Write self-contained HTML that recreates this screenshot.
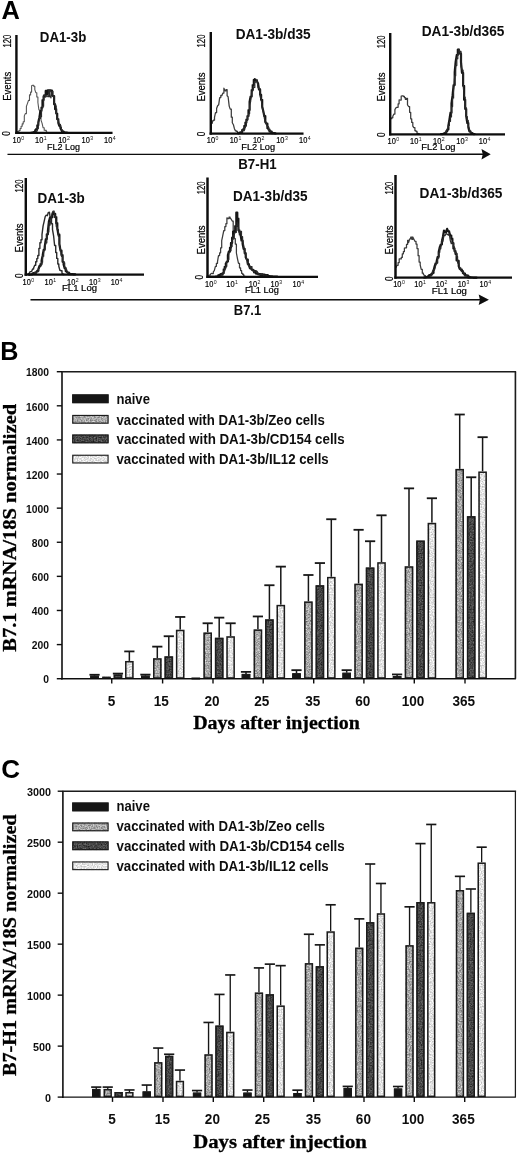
<!DOCTYPE html>
<html lang="en"><head><meta charset="utf-8"><title>Figure: B7-H1 and B7.1 expression</title>
<style>
html,body{margin:0;padding:0;background:#fff;}
body{width:520px;height:1154px;overflow:hidden;font-family:"Liberation Sans",sans-serif;}
svg{display:block;}
text{white-space:pre;}
</style></head><body>
<svg width="520" height="1154" viewBox="0 0 520 1154">
<rect width="520" height="1154" fill="#fff"/>
<defs>
<filter id="fz" x="0" y="0" width="1" height="1" color-interpolation-filters="sRGB"><feTurbulence type="fractalNoise" baseFrequency="0.75" numOctaves="2" seed="5"/><feColorMatrix type="matrix" values="0.7 0 0 0 0.31  0.7 0 0 0 0.31  0.7 0 0 0 0.31  0 0 0 0 1"/><feComposite operator="in" in2="SourceGraphic"/></filter>
<filter id="fc" x="0" y="0" width="1" height="1" color-interpolation-filters="sRGB"><feTurbulence type="fractalNoise" baseFrequency="0.75" numOctaves="2" seed="11"/><feColorMatrix type="matrix" values="0.5 0 0 0 0.03  0.5 0 0 0 0.03  0.5 0 0 0 0.03  0 0 0 0 1"/><feComposite operator="in" in2="SourceGraphic"/></filter>
<filter id="fi" x="0" y="0" width="1" height="1" color-interpolation-filters="sRGB"><feTurbulence type="fractalNoise" baseFrequency="0.75" numOctaves="2" seed="23"/><feColorMatrix type="matrix" values="0.5 0 0 0 0.64  0.5 0 0 0 0.64  0.5 0 0 0 0.64  0 0 0 0 1"/><feComposite operator="in" in2="SourceGraphic"/></filter>
<filter id="soft" x="0" y="0" width="100%" height="100%" filterUnits="userSpaceOnUse"><feGaussianBlur stdDeviation="0.42"/></filter>
</defs>
<g filter="url(#soft)">
<path d="M16.9,131.8 L17.9,131.4 L19.0,131.4 L19.0,130.5 L20.1,130.5 L20.1,128.5 L21.1,128.5 L21.1,126.2 L22.2,126.2 L22.2,123.9 L23.2,123.9 L23.2,121.7 L24.3,121.7 L24.3,115.9 L25.3,113.6 L26.4,113.6 L26.4,106.4 L27.4,103.6 L28.5,100.4 L29.5,100.4 L29.5,94.9 L30.6,94.9 L30.6,92.1 L31.6,92.1 L31.6,85.7 L32.7,85.3 L33.7,85.3 L33.7,86.2 L34.8,86.2 L34.8,89.7 L35.8,92.7 L36.8,92.7 L36.8,97.0 L37.9,97.0 L37.9,102.5 L38.9,110.0 L40.0,110.0 L40.0,114.6 L41.0,114.6 L41.0,120.1 L42.1,123.4 L43.1,127.8 L44.2,127.8 L44.2,130.3 L45.2,130.3 L45.2,130.4 L46.3,130.4 L46.3,131.8 L47.3,132.3 L48.4,132.6" fill="none" stroke="#555" stroke-width="1.1" stroke-linejoin="round" stroke-linecap="round"/>
<path d="M31.0,132.8 L32.0,132.8 L32.0,132.6 L33.1,132.3 L34.1,132.0 L35.2,132.0 L35.2,130.4 L36.2,129.0 L37.3,129.0 L37.3,125.3 L38.3,125.3 L38.3,122.3 L39.4,117.5 L40.4,110.8 L41.5,110.8 L41.5,107.5 L42.5,107.5 L42.5,100.1 L43.6,100.1 L43.6,96.4 L44.6,96.4 L44.6,95.3 L45.7,95.3 L45.7,90.9 L46.7,90.9 L46.7,93.8 L47.8,93.8 L47.8,90.3 L48.8,90.3 L48.8,92.7 L49.9,90.3 L50.9,90.3 L50.9,90.6 L52.0,90.6 L52.0,94.9 L53.0,96.0 L54.1,96.0 L54.1,104.3 L55.1,104.3 L55.1,109.2 L56.2,109.2 L56.2,113.5 L57.2,113.5 L57.2,119.2 L58.3,119.2 L58.3,122.9 L59.3,125.9 L60.4,125.9 L60.4,128.1 L61.4,130.0 L62.5,132.2 L63.5,131.5 L64.6,132.5 L65.6,132.5 L65.6,132.7 L66.7,132.7 L66.7,132.8 L67.7,132.8 L67.7,132.9" fill="none" stroke="#181818" stroke-width="2.2" stroke-linejoin="round" stroke-linecap="round"/>
<path d="M31.0,132.8 L32.0,132.7 L33.1,132.7 L33.1,132.4 L34.1,132.4 L34.1,132.9 L35.2,132.9 L35.2,132.0 L36.2,132.0 L36.2,130.9 L37.3,130.9 L37.3,128.5 L38.3,128.5 L38.3,124.7 L39.4,118.4 L40.4,118.4 L40.4,116.7 L41.5,116.7 L41.5,110.2 L42.5,106.2 L43.6,106.2 L43.6,95.0 L44.6,95.0 L44.6,95.4 L45.7,95.4 L45.7,97.2 L46.7,95.8 L47.8,95.8 L47.8,96.7 L48.8,96.7 L48.8,90.2 L49.9,90.2 L49.9,96.8 L50.9,96.8 L50.9,97.8 L52.0,91.3 L53.0,91.3 L53.0,96.6 L54.1,96.6 L54.1,103.4 L55.1,103.4 L55.1,105.8 L56.2,105.8 L56.2,111.2 L57.2,119.0 L58.3,120.0 L59.3,124.3 L60.4,124.3 L60.4,127.3 L61.4,127.3 L61.4,129.9 L62.5,129.9 L62.5,132.4 L63.5,132.4 L63.5,132.5 L64.6,132.4 L65.6,132.6 L66.7,132.6 L66.7,132.8 L67.7,132.8" fill="none" stroke="#2a2a2a" stroke-width="1.2" stroke-linejoin="round" stroke-linecap="round"/>
<line x1="16.40" y1="35.00" x2="16.40" y2="134.00" stroke="#0a0a0a" stroke-width="2.4" stroke-linecap="butt"/>
<line x1="15.20" y1="132.90" x2="112.50" y2="132.90" stroke="#0a0a0a" stroke-width="2.3" stroke-linecap="butt"/>
<text x="39.80" y="42.00" font-family='"Liberation Sans", sans-serif' font-size="14.6" font-weight="bold" textLength="46.50" lengthAdjust="spacingAndGlyphs" fill="#0a0a0a" >DA1-3b</text>
<text x="10.70" y="47.60" font-family='"Liberation Sans", sans-serif' font-size="10" textLength="12.80" lengthAdjust="spacingAndGlyphs" transform="rotate(-90 10.70 47.60)" fill="#000" stroke="#000" stroke-width="0.22">120</text>
<text x="10.70" y="100.80" font-family='"Liberation Sans", sans-serif' font-size="10.2" textLength="29.00" lengthAdjust="spacingAndGlyphs" transform="rotate(-90 10.70 100.80)" fill="#000" stroke="#000" stroke-width="0.22">Events</text>
<text x="9.70" y="133.50" font-family='"Liberation Sans", sans-serif' font-size="10" text-anchor="middle" textLength="4.60" lengthAdjust="spacingAndGlyphs" transform="rotate(-90 9.70 133.50)" fill="#000" stroke="#000" stroke-width="0.22">0</text>
<text x="12.50" y="143.00" font-family='"Liberation Sans", sans-serif' font-size="9.8" textLength="8.30" lengthAdjust="spacingAndGlyphs" fill="#000" stroke="#000" stroke-width="0.22">10</text>
<text x="21.20" y="139.50" font-family='"Liberation Sans", sans-serif' font-size="5.6" textLength="2.90" lengthAdjust="spacingAndGlyphs" fill="#111" >0</text>
<text x="35.00" y="143.00" font-family='"Liberation Sans", sans-serif' font-size="9.8" textLength="8.30" lengthAdjust="spacingAndGlyphs" fill="#000" stroke="#000" stroke-width="0.22">10</text>
<text x="43.70" y="139.50" font-family='"Liberation Sans", sans-serif' font-size="5.6" textLength="2.90" lengthAdjust="spacingAndGlyphs" fill="#111" >1</text>
<text x="58.20" y="143.00" font-family='"Liberation Sans", sans-serif' font-size="9.8" textLength="8.30" lengthAdjust="spacingAndGlyphs" fill="#000" stroke="#000" stroke-width="0.22">10</text>
<text x="66.90" y="139.50" font-family='"Liberation Sans", sans-serif' font-size="5.6" textLength="2.90" lengthAdjust="spacingAndGlyphs" fill="#111" >2</text>
<text x="81.50" y="143.00" font-family='"Liberation Sans", sans-serif' font-size="9.8" textLength="8.30" lengthAdjust="spacingAndGlyphs" fill="#000" stroke="#000" stroke-width="0.22">10</text>
<text x="90.20" y="139.50" font-family='"Liberation Sans", sans-serif' font-size="5.6" textLength="2.90" lengthAdjust="spacingAndGlyphs" fill="#111" >3</text>
<text x="104.10" y="143.00" font-family='"Liberation Sans", sans-serif' font-size="9.8" textLength="8.30" lengthAdjust="spacingAndGlyphs" fill="#000" stroke="#000" stroke-width="0.22">10</text>
<text x="112.80" y="139.50" font-family='"Liberation Sans", sans-serif' font-size="5.6" textLength="2.90" lengthAdjust="spacingAndGlyphs" fill="#111" >4</text>
<text x="47.00" y="150.00" font-family='"Liberation Sans", sans-serif' font-size="9.2" textLength="33.00" lengthAdjust="spacingAndGlyphs" fill="#000" stroke="#000" stroke-width="0.22">FL2 Log</text>
<path d="M211.3,123.2 L212.4,123.2 L212.4,120.8 L213.4,120.8 L213.4,120.2 L214.5,120.2 L214.5,117.4 L215.5,112.7 L216.6,112.7 L216.6,108.5 L217.6,105.7 L218.7,104.7 L219.7,97.6 L220.8,97.6 L220.8,95.3 L221.8,95.7 L222.9,93.0 L223.9,93.0 L223.9,88.2 L225.0,90.8 L226.0,90.8 L226.0,89.7 L227.1,89.7 L227.1,95.8 L228.1,96.7 L229.2,106.1 L230.2,109.1 L231.3,109.1 L231.3,117.2 L232.3,117.2 L232.3,122.8 L233.4,124.7 L234.4,128.7 L235.5,130.9 L236.5,130.9 L236.5,131.4 L237.6,131.4 L237.6,133.2" fill="none" stroke="#3a3a3a" stroke-width="1.25" stroke-linejoin="round" stroke-linecap="round"/>
<path d="M238.0,133.3 L239.1,133.3 L239.1,133.0 L240.1,133.0 L240.1,132.4 L241.2,132.4 L241.2,132.0 L242.2,132.0 L242.2,130.0 L243.3,130.0 L243.3,129.2 L244.3,129.2 L244.3,125.9 L245.4,125.9 L245.4,122.6 L246.4,122.6 L246.4,119.5 L247.5,119.5 L247.5,116.1 L248.5,116.1 L248.5,110.1 L249.6,110.1 L249.6,101.6 L250.6,96.5 L251.7,96.5 L251.7,90.0 L252.7,90.0 L252.7,85.1 L253.8,85.1 L253.8,79.9 L254.8,79.9 L254.8,79.1 L255.9,80.7 L256.9,80.7 L256.9,81.2 L258.0,83.3 L259.0,89.5 L260.1,89.5 L260.1,94.7 L261.1,94.7 L261.1,99.8 L262.2,99.8 L262.2,106.4 L263.2,110.7 L264.3,116.0 L265.3,116.0 L265.3,121.9 L266.4,123.7 L267.4,123.7 L267.4,128.2 L268.5,128.2 L268.5,129.6 L269.5,129.6 L269.5,131.4 L270.6,131.6 L271.6,131.6 L271.6,131.9 L272.7,133.0 L273.7,133.2 L274.8,133.2 L274.8,133.4 L275.8,133.5" fill="none" stroke="#181818" stroke-width="2.2" stroke-linejoin="round" stroke-linecap="round"/>
<path d="M238.0,133.3 L239.1,133.1 L240.1,133.5 L241.2,133.5 L241.2,132.4 L242.2,129.8 L243.3,129.8 L243.3,130.7 L244.3,130.7 L244.3,127.6 L245.4,127.6 L245.4,125.9 L246.4,125.9 L246.4,120.3 L247.5,120.3 L247.5,116.4 L248.5,116.4 L248.5,113.7 L249.6,113.7 L249.6,104.7 L250.6,101.9 L251.7,91.1 L252.7,91.1 L252.7,90.8 L253.8,87.4 L254.8,87.4 L254.8,83.2 L255.9,81.4 L256.9,81.4 L256.9,79.4 L258.0,87.6 L259.0,88.5 L260.1,88.5 L260.1,97.0 L261.1,97.0 L261.1,98.7 L262.2,108.0 L263.2,110.5 L264.3,118.0 L265.3,122.2 L266.4,122.2 L266.4,124.3 L267.4,126.7 L268.5,126.7 L268.5,129.8 L269.5,129.8 L269.5,130.5 L270.6,130.5 L270.6,132.8 L271.6,132.8 L271.6,133.6 L272.7,133.6 L272.7,132.9 L273.7,132.9 L273.7,133.2 L274.8,133.4 L275.8,133.4 L275.8,133.5" fill="none" stroke="#2a2a2a" stroke-width="1.2" stroke-linejoin="round" stroke-linecap="round"/>
<line x1="210.80" y1="32.00" x2="210.80" y2="134.70" stroke="#0a0a0a" stroke-width="2.4" stroke-linecap="butt"/>
<line x1="209.60" y1="133.60" x2="303.50" y2="133.60" stroke="#0a0a0a" stroke-width="2.3" stroke-linecap="butt"/>
<text x="235.70" y="38.70" font-family='"Liberation Sans", sans-serif' font-size="14.4" font-weight="bold" textLength="74.90" lengthAdjust="spacingAndGlyphs" fill="#0a0a0a" >DA1-3b/d35</text>
<text x="204.80" y="47.40" font-family='"Liberation Sans", sans-serif' font-size="10" textLength="12.80" lengthAdjust="spacingAndGlyphs" transform="rotate(-90 204.80 47.40)" fill="#000" stroke="#000" stroke-width="0.22">120</text>
<text x="204.80" y="101.60" font-family='"Liberation Sans", sans-serif' font-size="10.2" textLength="29.00" lengthAdjust="spacingAndGlyphs" transform="rotate(-90 204.80 101.60)" fill="#000" stroke="#000" stroke-width="0.22">Events</text>
<text x="204.80" y="134.00" font-family='"Liberation Sans", sans-serif' font-size="10" text-anchor="middle" textLength="4.60" lengthAdjust="spacingAndGlyphs" transform="rotate(-90 204.80 134.00)" fill="#000" stroke="#000" stroke-width="0.22">0</text>
<text x="206.80" y="143.40" font-family='"Liberation Sans", sans-serif' font-size="9.8" textLength="8.30" lengthAdjust="spacingAndGlyphs" fill="#000" stroke="#000" stroke-width="0.22">10</text>
<text x="215.50" y="139.90" font-family='"Liberation Sans", sans-serif' font-size="5.6" textLength="2.90" lengthAdjust="spacingAndGlyphs" fill="#111" >0</text>
<text x="229.70" y="143.40" font-family='"Liberation Sans", sans-serif' font-size="9.8" textLength="8.30" lengthAdjust="spacingAndGlyphs" fill="#000" stroke="#000" stroke-width="0.22">10</text>
<text x="238.40" y="139.90" font-family='"Liberation Sans", sans-serif' font-size="5.6" textLength="2.90" lengthAdjust="spacingAndGlyphs" fill="#111" >1</text>
<text x="252.90" y="143.40" font-family='"Liberation Sans", sans-serif' font-size="9.8" textLength="8.30" lengthAdjust="spacingAndGlyphs" fill="#000" stroke="#000" stroke-width="0.22">10</text>
<text x="261.60" y="139.90" font-family='"Liberation Sans", sans-serif' font-size="5.6" textLength="2.90" lengthAdjust="spacingAndGlyphs" fill="#111" >2</text>
<text x="276.20" y="143.40" font-family='"Liberation Sans", sans-serif' font-size="9.8" textLength="8.30" lengthAdjust="spacingAndGlyphs" fill="#000" stroke="#000" stroke-width="0.22">10</text>
<text x="284.90" y="139.90" font-family='"Liberation Sans", sans-serif' font-size="5.6" textLength="2.90" lengthAdjust="spacingAndGlyphs" fill="#111" >3</text>
<text x="299.00" y="143.40" font-family='"Liberation Sans", sans-serif' font-size="9.8" textLength="8.30" lengthAdjust="spacingAndGlyphs" fill="#000" stroke="#000" stroke-width="0.22">10</text>
<text x="307.70" y="139.90" font-family='"Liberation Sans", sans-serif' font-size="5.6" textLength="2.90" lengthAdjust="spacingAndGlyphs" fill="#111" >4</text>
<text x="241.30" y="150.40" font-family='"Liberation Sans", sans-serif' font-size="9.2" textLength="33.80" lengthAdjust="spacingAndGlyphs" fill="#000" stroke="#000" stroke-width="0.22">FL2 Log</text>
<path d="M390.7,118.7 L391.8,118.7 L391.8,117.7 L392.8,117.7 L392.8,116.2 L393.9,114.0 L394.9,114.0 L394.9,109.6 L396.0,107.7 L397.0,107.3 L398.1,107.3 L398.1,103.8 L399.1,103.8 L399.1,99.9 L400.2,100.0 L401.2,100.0 L401.2,96.1 L402.3,95.9 L403.3,95.9 L403.3,96.3 L404.4,96.3 L404.4,97.7 L405.4,97.7 L405.4,99.4 L406.5,99.4 L406.5,98.3 L407.5,98.3 L407.5,104.9 L408.6,106.5 L409.6,106.5 L409.6,112.3 L410.7,112.3 L410.7,118.8 L411.7,118.8 L411.7,122.4 L412.8,122.4 L412.8,126.1 L413.8,127.7 L414.9,127.7 L414.9,130.7 L415.9,130.7 L415.9,131.3 L417.0,131.3 L417.0,133.4 L418.0,133.4 L418.0,133.7 L419.1,133.7 L419.1,134.0" fill="none" stroke="#3a3a3a" stroke-width="1.25" stroke-linejoin="round" stroke-linecap="round"/>
<path d="M441.0,134.2 L442.1,134.2 L442.1,134.0 L443.1,134.0 L443.1,133.8 L444.2,133.8 L444.2,133.3 L445.2,133.3 L445.2,132.8 L446.3,132.8 L446.3,131.1 L447.3,131.1 L447.3,129.5 L448.4,129.5 L448.4,125.5 L449.4,119.8 L450.5,112.7 L451.5,112.7 L451.5,103.4 L452.6,95.2 L453.6,85.1 L454.7,85.1 L454.7,72.1 L455.7,61.4 L456.8,54.9 L457.8,54.9 L457.8,49.7 L458.9,49.7 L458.9,51.1 L459.9,53.7 L461.0,53.7 L461.0,62.1 L462.0,72.8 L463.1,72.8 L463.1,85.8 L464.1,85.8 L464.1,99.8 L465.2,99.8 L465.2,109.0 L466.2,109.0 L466.2,116.1 L467.3,123.0 L468.3,123.0 L468.3,127.3 L469.4,131.4 L470.4,131.4 L470.4,131.8 L471.5,133.2 L472.5,133.2 L472.5,133.8 L473.6,134.1 L474.6,134.1 L474.6,134.2" fill="none" stroke="#181818" stroke-width="2.2" stroke-linejoin="round" stroke-linecap="round"/>
<path d="M441.0,134.2 L442.1,134.2 L442.1,134.1 L443.1,134.1 L443.1,133.9 L444.2,133.9 L444.2,132.9 L445.2,132.1 L446.3,132.1 L446.3,131.5 L447.3,129.5 L448.4,125.5 L449.4,125.5 L449.4,121.3 L450.5,121.3 L450.5,116.9 L451.5,116.9 L451.5,106.6 L452.6,106.6 L452.6,97.9 L453.6,97.9 L453.6,90.2 L454.7,75.7 L455.7,75.7 L455.7,65.6 L456.8,65.6 L456.8,58.7 L457.8,58.7 L457.8,54.0 L458.9,54.0 L458.9,49.1 L459.9,51.4 L461.0,51.4 L461.0,66.0 L462.0,70.2 L463.1,70.2 L463.1,84.3 L464.1,97.2 L465.2,97.2 L465.2,107.6 L466.2,107.6 L466.2,116.5 L467.3,116.5 L467.3,120.4 L468.3,120.4 L468.3,125.7 L469.4,128.8 L470.4,132.6 L471.5,132.6 L471.5,133.1 L472.5,133.1 L472.5,133.7 L473.6,133.7 L473.6,134.0 L474.6,134.0 L474.6,134.2" fill="none" stroke="#2a2a2a" stroke-width="1.2" stroke-linejoin="round" stroke-linecap="round"/>
<line x1="390.20" y1="33.00" x2="390.20" y2="135.40" stroke="#0a0a0a" stroke-width="2.4" stroke-linecap="butt"/>
<line x1="389.00" y1="134.30" x2="505.00" y2="134.30" stroke="#0a0a0a" stroke-width="2.3" stroke-linecap="butt"/>
<text x="421.70" y="36.30" font-family='"Liberation Sans", sans-serif' font-size="14.9" font-weight="bold" textLength="82.70" lengthAdjust="spacingAndGlyphs" fill="#0a0a0a" >DA1-3b/d365</text>
<text x="385.00" y="48.20" font-family='"Liberation Sans", sans-serif' font-size="10" textLength="12.80" lengthAdjust="spacingAndGlyphs" transform="rotate(-90 385.00 48.20)" fill="#000" stroke="#000" stroke-width="0.22">120</text>
<text x="385.00" y="101.60" font-family='"Liberation Sans", sans-serif' font-size="10.2" textLength="29.00" lengthAdjust="spacingAndGlyphs" transform="rotate(-90 385.00 101.60)" fill="#000" stroke="#000" stroke-width="0.22">Events</text>
<text x="385.00" y="134.80" font-family='"Liberation Sans", sans-serif' font-size="10" text-anchor="middle" textLength="4.60" lengthAdjust="spacingAndGlyphs" transform="rotate(-90 385.00 134.80)" fill="#000" stroke="#000" stroke-width="0.22">0</text>
<text x="387.50" y="144.00" font-family='"Liberation Sans", sans-serif' font-size="9.8" textLength="8.30" lengthAdjust="spacingAndGlyphs" fill="#000" stroke="#000" stroke-width="0.22">10</text>
<text x="396.20" y="140.50" font-family='"Liberation Sans", sans-serif' font-size="5.6" textLength="2.90" lengthAdjust="spacingAndGlyphs" fill="#111" >0</text>
<text x="410.00" y="144.00" font-family='"Liberation Sans", sans-serif' font-size="9.8" textLength="8.30" lengthAdjust="spacingAndGlyphs" fill="#000" stroke="#000" stroke-width="0.22">10</text>
<text x="418.70" y="140.50" font-family='"Liberation Sans", sans-serif' font-size="5.6" textLength="2.90" lengthAdjust="spacingAndGlyphs" fill="#111" >1</text>
<text x="433.00" y="144.00" font-family='"Liberation Sans", sans-serif' font-size="9.8" textLength="8.30" lengthAdjust="spacingAndGlyphs" fill="#000" stroke="#000" stroke-width="0.22">10</text>
<text x="441.70" y="140.50" font-family='"Liberation Sans", sans-serif' font-size="5.6" textLength="2.90" lengthAdjust="spacingAndGlyphs" fill="#111" >2</text>
<text x="456.30" y="144.00" font-family='"Liberation Sans", sans-serif' font-size="9.8" textLength="8.30" lengthAdjust="spacingAndGlyphs" fill="#000" stroke="#000" stroke-width="0.22">10</text>
<text x="465.00" y="140.50" font-family='"Liberation Sans", sans-serif' font-size="5.6" textLength="2.90" lengthAdjust="spacingAndGlyphs" fill="#111" >3</text>
<text x="478.80" y="144.00" font-family='"Liberation Sans", sans-serif' font-size="9.8" textLength="8.30" lengthAdjust="spacingAndGlyphs" fill="#000" stroke="#000" stroke-width="0.22">10</text>
<text x="487.50" y="140.50" font-family='"Liberation Sans", sans-serif' font-size="5.6" textLength="2.90" lengthAdjust="spacingAndGlyphs" fill="#111" >4</text>
<text x="421.30" y="150.30" font-family='"Liberation Sans", sans-serif' font-size="9.2" textLength="34.20" lengthAdjust="spacingAndGlyphs" fill="#000" stroke="#000" stroke-width="0.22">FL2 Log</text>
<line x1="7.50" y1="154.40" x2="483.00" y2="154.30" stroke="#0c0c0c" stroke-width="1.4" stroke-linecap="butt"/>
<path d="M481.5,149.0 L490.7,154.3 L481.5,159.6 L482.7,154.3 Z" fill="#0c0c0c"/>
<text x="238.30" y="168.50" font-family='"Liberation Sans", sans-serif' font-size="15" font-weight="bold" textLength="38.30" lengthAdjust="spacingAndGlyphs" fill="#0a0a0a" >B7-H1</text>
<path d="M26.3,274.2 L27.4,274.2 L27.4,274.2 L28.4,274.2 L28.4,273.8 L29.5,273.8 L29.5,272.3 L30.5,271.6 L31.6,271.6 L32.6,269.0 L33.6,269.0 L33.6,267.9 L34.7,265.2 L35.7,265.2 L35.7,261.8 L36.8,261.8 L36.8,258.6 L37.8,258.6 L37.8,255.5 L38.9,255.5 L38.9,248.4 L39.9,248.4 L39.9,242.8 L41.0,242.8 L41.0,239.8 L42.0,239.8 L42.0,234.7 L43.1,225.9 L44.1,221.6 L45.2,216.7 L46.2,215.2 L47.3,215.7 L48.3,212.5 L49.4,212.5 L49.4,212.2 L50.4,218.7 L51.5,218.7 L51.5,223.7 L52.5,223.7 L52.5,229.7 L53.6,235.8 L54.6,245.5 L55.7,245.5 L55.7,252.5 L56.7,252.5 L56.7,258.4 L57.8,258.4 L57.8,264.0 L58.8,264.0 L58.8,266.2 L59.9,270.4 L60.9,270.4 L60.9,270.8 L62.0,270.8 L62.0,273.6 L63.0,273.6 L63.0,274.5 L64.1,274.5 L64.1,274.2" fill="none" stroke="#2a2a2a" stroke-width="1.4" stroke-linejoin="round" stroke-linecap="round"/>
<path d="M29.0,274.6 L30.1,274.6 L30.1,274.5 L31.1,274.5 L31.1,274.4 L32.1,274.4 L32.1,274.1 L33.2,273.1 L34.2,273.1 L34.2,273.5 L35.3,273.5 L35.3,272.6 L36.3,272.6 L36.3,272.0 L37.4,270.7 L38.4,270.7 L38.4,269.3 L39.5,265.9 L40.5,265.9 L40.5,264.0 L41.6,264.0 L41.6,260.4 L42.6,255.7 L43.7,249.6 L44.7,249.6 L44.7,247.2 L45.8,239.1 L46.8,239.1 L46.8,234.3 L47.9,234.3 L47.9,230.9 L48.9,221.5 L50.0,217.5 L51.0,217.5 L51.0,217.5 L52.1,217.5 L52.1,216.1 L53.1,212.7 L54.2,213.9 L55.2,213.9 L55.2,217.0 L56.3,217.0 L56.3,223.2 L57.3,223.2 L57.3,228.3 L58.4,234.7 L59.4,234.7 L59.4,244.0 L60.5,250.6 L61.5,250.6 L61.5,255.1 L62.6,255.1 L62.6,261.8 L63.6,261.8 L63.6,264.5 L64.7,268.4 L65.7,268.4 L65.7,271.1 L66.8,271.8 L67.8,272.6 L68.9,272.6 L68.9,273.7 L69.9,273.7 L69.9,274.1 L71.0,274.2 L72.0,274.2 L73.1,274.2 L73.1,274.3 L74.1,274.3 L74.1,274.4 L75.2,274.4 L75.2,274.4" fill="none" stroke="#181818" stroke-width="2.2" stroke-linejoin="round" stroke-linecap="round"/>
<path d="M29.0,274.6 L30.1,274.5 L31.1,274.5 L31.1,274.4 L32.1,274.4 L32.1,274.2 L33.2,273.9 L34.2,273.9 L34.2,272.4 L35.3,272.4 L35.3,274.2 L36.3,272.3 L37.4,271.7 L38.4,271.7 L38.4,268.5 L39.5,268.1 L40.5,265.1 L41.6,265.1 L41.6,262.2 L42.6,262.2 L42.6,256.2 L43.7,256.2 L43.7,250.6 L44.7,250.6 L44.7,249.3 L45.8,242.8 L46.8,242.8 L46.8,234.0 L47.9,234.0 L47.9,232.0 L48.9,232.0 L48.9,222.8 L50.0,222.8 L50.0,225.2 L51.0,219.2 L52.1,213.0 L53.1,211.1 L54.2,211.1 L54.2,217.4 L55.2,215.2 L56.3,226.7 L57.3,226.7 L57.3,229.7 L58.4,229.7 L58.4,236.5 L59.4,236.5 L59.4,245.0 L60.5,249.4 L61.5,256.3 L62.6,256.3 L62.6,260.9 L63.6,262.8 L64.7,262.8 L64.7,267.4 L65.7,267.4 L65.7,269.8 L66.8,269.8 L66.8,270.3 L67.8,273.0 L68.9,273.0 L68.9,274.7 L69.9,274.0 L71.0,274.1 L72.0,274.1 L72.0,274.2 L73.1,274.2 L73.1,274.3 L74.1,274.3 L74.1,274.3 L75.2,274.4" fill="none" stroke="#2a2a2a" stroke-width="1.2" stroke-linejoin="round" stroke-linecap="round"/>
<line x1="25.80" y1="178.00" x2="25.80" y2="275.80" stroke="#0a0a0a" stroke-width="2.4" stroke-linecap="butt"/>
<line x1="24.60" y1="274.70" x2="144.00" y2="274.70" stroke="#0a0a0a" stroke-width="2.3" stroke-linecap="butt"/>
<text x="37.50" y="203.00" font-family='"Liberation Sans", sans-serif' font-size="14.8" font-weight="bold" textLength="47.10" lengthAdjust="spacingAndGlyphs" fill="#0a0a0a" >DA1-3b</text>
<text x="22.60" y="192.40" font-family='"Liberation Sans", sans-serif' font-size="10" textLength="12.80" lengthAdjust="spacingAndGlyphs" transform="rotate(-90 22.60 192.40)" fill="#000" stroke="#000" stroke-width="0.22">120</text>
<text x="22.60" y="252.40" font-family='"Liberation Sans", sans-serif' font-size="10.2" textLength="29.00" lengthAdjust="spacingAndGlyphs" transform="rotate(-90 22.60 252.40)" fill="#000" stroke="#000" stroke-width="0.22">Events</text>
<text x="22.60" y="275.60" font-family='"Liberation Sans", sans-serif' font-size="10" text-anchor="middle" textLength="4.60" lengthAdjust="spacingAndGlyphs" transform="rotate(-90 22.60 275.60)" fill="#000" stroke="#000" stroke-width="0.22">0</text>
<text x="22.60" y="285.30" font-family='"Liberation Sans", sans-serif' font-size="9.8" textLength="8.30" lengthAdjust="spacingAndGlyphs" fill="#000" stroke="#000" stroke-width="0.22">10</text>
<text x="31.30" y="281.80" font-family='"Liberation Sans", sans-serif' font-size="5.6" textLength="2.90" lengthAdjust="spacingAndGlyphs" fill="#111" >0</text>
<text x="44.60" y="285.30" font-family='"Liberation Sans", sans-serif' font-size="9.8" textLength="8.30" lengthAdjust="spacingAndGlyphs" fill="#000" stroke="#000" stroke-width="0.22">10</text>
<text x="53.30" y="281.80" font-family='"Liberation Sans", sans-serif' font-size="5.6" textLength="2.90" lengthAdjust="spacingAndGlyphs" fill="#111" >1</text>
<text x="67.00" y="285.30" font-family='"Liberation Sans", sans-serif' font-size="9.8" textLength="8.30" lengthAdjust="spacingAndGlyphs" fill="#000" stroke="#000" stroke-width="0.22">10</text>
<text x="75.70" y="281.80" font-family='"Liberation Sans", sans-serif' font-size="5.6" textLength="2.90" lengthAdjust="spacingAndGlyphs" fill="#111" >2</text>
<text x="89.00" y="285.30" font-family='"Liberation Sans", sans-serif' font-size="9.8" textLength="8.30" lengthAdjust="spacingAndGlyphs" fill="#000" stroke="#000" stroke-width="0.22">10</text>
<text x="97.70" y="281.80" font-family='"Liberation Sans", sans-serif' font-size="5.6" textLength="2.90" lengthAdjust="spacingAndGlyphs" fill="#111" >3</text>
<text x="110.80" y="285.30" font-family='"Liberation Sans", sans-serif' font-size="9.8" textLength="8.30" lengthAdjust="spacingAndGlyphs" fill="#000" stroke="#000" stroke-width="0.22">10</text>
<text x="119.50" y="281.80" font-family='"Liberation Sans", sans-serif' font-size="5.6" textLength="2.90" lengthAdjust="spacingAndGlyphs" fill="#111" >4</text>
<text x="62.00" y="290.80" font-family='"Liberation Sans", sans-serif' font-size="9.2" textLength="35.00" lengthAdjust="spacingAndGlyphs" fill="#000" stroke="#000" stroke-width="0.22">FL1 Log</text>
<path d="M208.0,276.5 L209.1,275.2 L210.1,275.2 L210.1,275.3 L211.2,273.3 L212.2,273.5 L213.3,273.5 L213.3,271.9 L214.3,270.7 L215.4,266.3 L216.4,266.3 L216.4,263.3 L217.5,263.3 L217.5,261.6 L218.5,255.6 L219.6,255.6 L219.6,252.8 L220.6,252.8 L220.6,247.8 L221.7,247.8 L221.7,240.7 L222.7,235.8 L223.8,230.5 L224.8,230.5 L224.8,226.6 L225.9,226.6 L225.9,223.7 L226.9,223.7 L226.9,217.9 L228.0,218.6 L229.0,218.6 L229.0,217.0 L230.1,217.0 L230.1,218.2 L231.1,219.0 L232.2,221.0 L233.2,221.0 L233.2,230.5 L234.3,230.5 L234.3,238.7 L235.3,238.7 L235.3,244.0 L236.4,244.0 L236.4,253.0 L237.4,258.3 L238.5,263.4 L239.5,263.4 L239.5,267.9 L240.6,267.9 L240.6,270.6 L241.6,270.6 L241.6,273.3 L242.7,273.3 L242.7,274.4 L243.7,274.4 L243.7,276.2 L244.8,276.2 L244.8,276.3 L245.8,276.6 L246.9,276.6 L246.9,276.7" fill="none" stroke="#3a3a3a" stroke-width="1.25" stroke-linejoin="round" stroke-linecap="round"/>
<path d="M210.0,276.9 L211.1,276.9 L211.1,276.9 L212.1,276.9 L212.1,276.9 L213.2,276.8 L214.2,276.8 L214.2,276.8 L215.3,276.8 L215.3,276.7 L216.3,276.6 L217.4,276.4 L218.4,276.4 L218.4,275.2 L219.5,275.6 L220.5,274.2 L221.6,274.2 L221.6,274.7 L222.6,274.7 L222.6,273.1 L223.7,273.1 L223.7,269.4 L224.7,269.4 L224.7,266.8 L225.8,266.8 L225.8,263.7 L226.8,261.6 L227.9,261.6 L227.9,255.1 L228.9,251.3 L230.0,251.3 L230.0,247.6 L231.0,247.6 L231.0,242.9 L232.1,242.9 L232.1,237.7 L233.1,237.7 L233.1,231.6 L234.2,231.6 L234.2,231.7 L235.2,231.7 L235.2,226.1 L236.3,226.1 L236.3,212.6 L237.3,212.6 L237.3,218.5 L238.4,218.5 L238.4,230.3 L239.4,230.3 L239.4,231.9 L240.5,231.9 L240.5,234.2 L241.5,240.5 L242.6,240.5 L242.6,243.8 L243.6,248.8 L244.7,248.8 L244.7,253.2 L245.7,253.2 L245.7,257.3 L246.8,259.6 L247.8,259.6 L247.8,264.1 L248.9,264.1 L248.9,264.9 L249.9,268.3 L251.0,268.6 L252.0,269.8 L253.1,269.8 L253.1,270.6 L254.1,270.6 L254.1,272.4 L255.2,271.9 L256.2,273.6 L257.3,273.6 L257.3,273.6 L258.3,273.6 L258.3,274.5 L259.4,274.2 L260.4,274.2 L260.4,275.3 L261.5,274.4 L262.5,274.4 L262.5,275.7 L263.6,274.6 L264.6,274.6 L264.6,275.7 L265.7,275.7 L265.7,275.0 L266.7,275.2 L267.8,275.2 L267.8,275.5 L268.8,276.2 L269.9,276.2 L269.9,276.3 L270.9,276.3 L270.9,276.4 L272.0,276.4 L273.0,276.5 L274.1,276.5 L274.1,276.6 L275.1,276.6 L275.1,276.6 L276.2,276.6 L276.2,276.6 L277.2,276.6 L277.2,276.7" fill="none" stroke="#181818" stroke-width="2.2" stroke-linejoin="round" stroke-linecap="round"/>
<path d="M210.0,276.9 L211.1,276.9 L211.1,276.9 L212.1,276.9 L212.1,276.9 L213.2,276.9 L213.2,276.9 L214.2,276.8 L215.3,276.8 L216.3,276.8 L216.3,276.7 L217.4,276.7 L217.4,276.5 L218.4,276.2 L219.5,276.9 L220.5,276.9 L220.5,276.2 L221.6,274.1 L222.6,274.1 L222.6,273.5 L223.7,273.5 L223.7,270.9 L224.7,270.9 L224.7,268.3 L225.8,268.3 L225.8,266.2 L226.8,266.2 L226.8,262.0 L227.9,259.6 L228.9,259.6 L228.9,252.3 L230.0,252.3 L230.0,250.7 L231.0,250.7 L231.0,246.4 L232.1,246.4 L232.1,239.5 L233.1,239.5 L233.1,235.2 L234.2,234.9 L235.2,232.4 L236.3,232.4 L236.3,225.6 L237.3,225.6 L237.3,222.1 L238.4,226.9 L239.4,234.8 L240.5,231.4 L241.5,231.4 L241.5,236.7 L242.6,236.7 L242.6,240.0 L243.6,244.9 L244.7,253.8 L245.7,253.8 L245.7,254.1 L246.8,260.8 L247.8,264.6 L248.9,265.9 L249.9,265.9 L249.9,268.0 L251.0,268.0 L251.0,266.5 L252.0,266.5 L252.0,270.0 L253.1,270.0 L253.1,270.9 L254.1,270.9 L254.1,272.2 L255.2,270.6 L256.2,270.6 L256.2,271.4 L257.3,271.4 L257.3,272.4 L258.3,273.6 L259.4,274.5 L260.4,274.5 L260.4,274.4 L261.5,274.4 L261.5,273.8 L262.5,273.8 L263.6,275.6 L264.6,276.2 L265.7,276.2 L265.7,275.5 L266.7,275.5 L266.7,275.2 L267.8,276.9 L268.8,276.9 L268.8,276.2 L269.9,276.3 L270.9,276.3 L270.9,276.3 L272.0,276.4 L273.0,276.5 L274.1,276.5 L274.1,276.5 L275.1,276.6 L276.2,276.6 L276.2,276.6 L277.2,276.6 L277.2,276.7" fill="none" stroke="#2a2a2a" stroke-width="1.2" stroke-linejoin="round" stroke-linecap="round"/>
<line x1="207.50" y1="177.50" x2="207.50" y2="278.00" stroke="#0a0a0a" stroke-width="2.4" stroke-linecap="butt"/>
<line x1="206.30" y1="276.90" x2="318.00" y2="276.90" stroke="#0a0a0a" stroke-width="2.3" stroke-linecap="butt"/>
<text x="233.00" y="201.00" font-family='"Liberation Sans", sans-serif' font-size="14.6" font-weight="bold" textLength="74.50" lengthAdjust="spacingAndGlyphs" fill="#0a0a0a" >DA1-3b/d35</text>
<text x="205.40" y="194.20" font-family='"Liberation Sans", sans-serif' font-size="10" textLength="12.80" lengthAdjust="spacingAndGlyphs" transform="rotate(-90 205.40 194.20)" fill="#000" stroke="#000" stroke-width="0.22">120</text>
<text x="205.40" y="254.40" font-family='"Liberation Sans", sans-serif' font-size="10.2" textLength="29.00" lengthAdjust="spacingAndGlyphs" transform="rotate(-90 205.40 254.40)" fill="#000" stroke="#000" stroke-width="0.22">Events</text>
<text x="202.70" y="277.30" font-family='"Liberation Sans", sans-serif' font-size="10" text-anchor="middle" textLength="4.60" lengthAdjust="spacingAndGlyphs" transform="rotate(-90 202.70 277.30)" fill="#000" stroke="#000" stroke-width="0.22">0</text>
<text x="205.00" y="287.30" font-family='"Liberation Sans", sans-serif' font-size="9.8" textLength="8.30" lengthAdjust="spacingAndGlyphs" fill="#000" stroke="#000" stroke-width="0.22">10</text>
<text x="213.70" y="283.80" font-family='"Liberation Sans", sans-serif' font-size="5.6" textLength="2.90" lengthAdjust="spacingAndGlyphs" fill="#111" >0</text>
<text x="226.30" y="287.30" font-family='"Liberation Sans", sans-serif' font-size="9.8" textLength="8.30" lengthAdjust="spacingAndGlyphs" fill="#000" stroke="#000" stroke-width="0.22">10</text>
<text x="235.00" y="283.80" font-family='"Liberation Sans", sans-serif' font-size="5.6" textLength="2.90" lengthAdjust="spacingAndGlyphs" fill="#111" >1</text>
<text x="248.80" y="287.30" font-family='"Liberation Sans", sans-serif' font-size="9.8" textLength="8.30" lengthAdjust="spacingAndGlyphs" fill="#000" stroke="#000" stroke-width="0.22">10</text>
<text x="257.50" y="283.80" font-family='"Liberation Sans", sans-serif' font-size="5.6" textLength="2.90" lengthAdjust="spacingAndGlyphs" fill="#111" >2</text>
<text x="270.50" y="287.30" font-family='"Liberation Sans", sans-serif' font-size="9.8" textLength="8.30" lengthAdjust="spacingAndGlyphs" fill="#000" stroke="#000" stroke-width="0.22">10</text>
<text x="279.20" y="283.80" font-family='"Liberation Sans", sans-serif' font-size="5.6" textLength="2.90" lengthAdjust="spacingAndGlyphs" fill="#111" >3</text>
<text x="292.50" y="287.30" font-family='"Liberation Sans", sans-serif' font-size="9.8" textLength="8.30" lengthAdjust="spacingAndGlyphs" fill="#000" stroke="#000" stroke-width="0.22">10</text>
<text x="301.20" y="283.80" font-family='"Liberation Sans", sans-serif' font-size="5.6" textLength="2.90" lengthAdjust="spacingAndGlyphs" fill="#111" >4</text>
<text x="245.00" y="293.20" font-family='"Liberation Sans", sans-serif' font-size="9.2" textLength="33.80" lengthAdjust="spacingAndGlyphs" fill="#000" stroke="#000" stroke-width="0.22">FL1 Log</text>
<path d="M396.0,267.4 L397.1,265.3 L398.1,265.3 L398.1,262.5 L399.2,262.5 L399.2,258.8 L400.2,258.9 L401.3,258.9 L401.3,257.4 L402.3,257.4 L402.3,253.8 L403.4,253.8 L403.4,251.5 L404.4,251.5 L404.4,248.2 L405.5,247.8 L406.5,247.8 L406.5,244.4 L407.6,244.4 L407.6,240.3 L408.6,240.3 L408.6,242.7 L409.7,238.8 L410.7,238.8 L410.7,237.1 L411.8,237.1 L411.8,239.3 L412.8,239.3 L412.8,236.9 L413.9,239.2 L414.9,241.3 L416.0,241.3 L416.0,244.0 L417.0,244.0 L417.0,248.6 L418.1,248.6 L418.1,255.7 L419.1,255.7 L419.1,262.0 L420.2,262.0 L420.2,265.0 L421.2,269.4 L422.3,269.4 L422.3,273.2 L423.3,273.2 L423.3,274.2 L424.4,275.5 L425.4,275.5 L425.4,277.2 L426.5,277.2 L426.5,277.1" fill="none" stroke="#3a3a3a" stroke-width="1.25" stroke-linejoin="round" stroke-linecap="round"/>
<path d="M424.0,277.5 L425.1,277.5 L425.1,277.4 L426.1,277.2 L427.2,276.9 L428.2,276.9 L428.2,276.1 L429.3,275.2 L430.3,275.0 L431.4,275.0 L431.4,273.8 L432.4,273.8 L432.4,272.9 L433.5,272.9 L433.5,271.1 L434.5,266.8 L435.6,263.3 L436.6,263.3 L436.6,261.4 L437.7,256.8 L438.7,256.8 L438.7,252.1 L439.8,247.1 L440.8,244.5 L441.9,244.5 L441.9,241.5 L442.9,237.0 L444.0,230.5 L445.0,232.2 L446.1,232.2 L446.1,231.6 L447.1,228.9 L448.2,231.4 L449.2,231.4 L449.2,232.0 L450.3,235.5 L451.3,235.5 L451.3,238.7 L452.4,238.7 L452.4,243.0 L453.4,243.0 L453.4,248.5 L454.5,248.5 L454.5,251.1 L455.5,251.1 L455.5,253.9 L456.6,253.9 L456.6,260.4 L457.6,260.4 L457.6,260.9 L458.7,260.9 L458.7,266.1 L459.7,268.8 L460.8,269.5 L461.8,269.5 L461.8,271.1 L462.9,271.1 L462.9,273.0 L463.9,273.7 L465.0,273.7 L465.0,274.5 L466.0,275.3 L467.1,275.3 L467.1,275.7 L468.1,275.7 L468.1,277.4 L469.2,277.4 L469.2,277.1 L470.2,277.3 L471.3,277.5 L472.3,277.5 L473.4,277.6 L474.4,277.6 L475.5,277.6 L475.5,277.7 L476.5,277.7 L476.5,277.7" fill="none" stroke="#181818" stroke-width="2.2" stroke-linejoin="round" stroke-linecap="round"/>
<path d="M424.0,277.5 L425.1,277.5 L425.1,277.4 L426.1,277.3 L427.2,277.3 L427.2,277.0 L428.2,277.0 L428.2,277.1 L429.3,277.1 L429.3,277.4 L430.3,275.9 L431.4,275.9 L431.4,274.6 L432.4,274.6 L432.4,271.3 L433.5,269.7 L434.5,269.7 L434.5,270.2 L435.6,265.9 L436.6,262.9 L437.7,262.9 L437.7,258.2 L438.7,258.2 L438.7,252.3 L439.8,252.3 L439.8,248.0 L440.8,248.0 L440.8,248.8 L441.9,239.6 L442.9,239.6 L442.9,241.6 L444.0,235.1 L445.0,235.1 L445.0,235.7 L446.1,233.5 L447.1,234.4 L448.2,234.4 L448.2,235.2 L449.2,235.2 L449.2,233.7 L450.3,240.6 L451.3,243.7 L452.4,242.7 L453.4,242.7 L453.4,246.8 L454.5,246.8 L454.5,251.9 L455.5,251.9 L455.5,252.9 L456.6,252.9 L456.6,256.6 L457.6,256.6 L457.6,263.1 L458.7,263.1 L458.7,263.0 L459.7,267.8 L460.8,267.8 L460.8,270.5 L461.8,271.3 L462.9,272.1 L463.9,272.1 L463.9,274.6 L465.0,276.1 L466.0,275.4 L467.1,275.4 L467.1,277.3 L468.1,277.3 L468.1,276.1 L469.2,276.1 L469.2,277.1 L470.2,277.1 L470.2,277.3 L471.3,277.4 L472.3,277.4 L472.3,277.5 L473.4,277.5 L473.4,277.6 L474.4,277.6 L474.4,277.6 L475.5,277.7 L476.5,277.7" fill="none" stroke="#2a2a2a" stroke-width="1.2" stroke-linejoin="round" stroke-linecap="round"/>
<line x1="395.50" y1="175.00" x2="395.50" y2="278.80" stroke="#0a0a0a" stroke-width="2.4" stroke-linecap="butt"/>
<line x1="394.30" y1="277.70" x2="512.00" y2="277.70" stroke="#0a0a0a" stroke-width="2.3" stroke-linecap="butt"/>
<text x="419.50" y="198.40" font-family='"Liberation Sans", sans-serif' font-size="14.8" font-weight="bold" textLength="83.00" lengthAdjust="spacingAndGlyphs" fill="#0a0a0a" >DA1-3b/d365</text>
<text x="393.00" y="194.60" font-family='"Liberation Sans", sans-serif' font-size="10" textLength="12.80" lengthAdjust="spacingAndGlyphs" transform="rotate(-90 393.00 194.60)" fill="#000" stroke="#000" stroke-width="0.22">120</text>
<text x="393.00" y="254.40" font-family='"Liberation Sans", sans-serif' font-size="10.2" textLength="29.00" lengthAdjust="spacingAndGlyphs" transform="rotate(-90 393.00 254.40)" fill="#000" stroke="#000" stroke-width="0.22">Events</text>
<text x="393.00" y="278.60" font-family='"Liberation Sans", sans-serif' font-size="10" text-anchor="middle" textLength="4.60" lengthAdjust="spacingAndGlyphs" transform="rotate(-90 393.00 278.60)" fill="#000" stroke="#000" stroke-width="0.22">0</text>
<text x="393.20" y="287.10" font-family='"Liberation Sans", sans-serif' font-size="9.8" textLength="8.30" lengthAdjust="spacingAndGlyphs" fill="#000" stroke="#000" stroke-width="0.22">10</text>
<text x="401.90" y="283.60" font-family='"Liberation Sans", sans-serif' font-size="5.6" textLength="2.90" lengthAdjust="spacingAndGlyphs" fill="#111" >0</text>
<text x="414.30" y="287.10" font-family='"Liberation Sans", sans-serif' font-size="9.8" textLength="8.30" lengthAdjust="spacingAndGlyphs" fill="#000" stroke="#000" stroke-width="0.22">10</text>
<text x="423.00" y="283.60" font-family='"Liberation Sans", sans-serif' font-size="5.6" textLength="2.90" lengthAdjust="spacingAndGlyphs" fill="#111" >1</text>
<text x="435.80" y="287.10" font-family='"Liberation Sans", sans-serif' font-size="9.8" textLength="8.30" lengthAdjust="spacingAndGlyphs" fill="#000" stroke="#000" stroke-width="0.22">10</text>
<text x="444.50" y="283.60" font-family='"Liberation Sans", sans-serif' font-size="5.6" textLength="2.90" lengthAdjust="spacingAndGlyphs" fill="#111" >2</text>
<text x="457.70" y="287.10" font-family='"Liberation Sans", sans-serif' font-size="9.8" textLength="8.30" lengthAdjust="spacingAndGlyphs" fill="#000" stroke="#000" stroke-width="0.22">10</text>
<text x="466.40" y="283.60" font-family='"Liberation Sans", sans-serif' font-size="5.6" textLength="2.90" lengthAdjust="spacingAndGlyphs" fill="#111" >3</text>
<text x="479.60" y="287.10" font-family='"Liberation Sans", sans-serif' font-size="9.8" textLength="8.30" lengthAdjust="spacingAndGlyphs" fill="#000" stroke="#000" stroke-width="0.22">10</text>
<text x="488.30" y="283.60" font-family='"Liberation Sans", sans-serif' font-size="5.6" textLength="2.90" lengthAdjust="spacingAndGlyphs" fill="#111" >4</text>
<text x="431.80" y="294.20" font-family='"Liberation Sans", sans-serif' font-size="9.2" textLength="35.10" lengthAdjust="spacingAndGlyphs" fill="#000" stroke="#000" stroke-width="0.22">FL1 Log</text>
<line x1="30.50" y1="299.70" x2="481.00" y2="299.70" stroke="#0c0c0c" stroke-width="1.4" stroke-linecap="butt"/>
<path d="M478.7,294.4 L488.9,299.7 L478.7,305.0 L479.9,299.7 Z" fill="#0c0c0c"/>
<text x="233.80" y="315.40" font-family='"Liberation Sans", sans-serif' font-size="14.5" font-weight="bold" textLength="27.40" lengthAdjust="spacingAndGlyphs" fill="#0a0a0a" >B7.1</text>
<text x="1.50" y="19.30" font-family='"Liberation Sans", sans-serif' font-size="25.4" font-weight="bold" fill="#000" >A</text>
<line x1="94.55" y1="674.78" x2="94.55" y2="675.63" stroke="#161616" stroke-width="1.5" stroke-linecap="butt"/>
<line x1="89.45" y1="674.78" x2="99.65" y2="674.78" stroke="#161616" stroke-width="1.8" stroke-linecap="butt"/>
<rect x="90.25" y="675.63" width="8.60" height="3.07" fill="#141414"/>
<rect x="91.00" y="676.38" width="7.10" height="1.57" fill="none" stroke="#1a1a1a" stroke-width="1.5"/>
<rect x="102.15" y="676.65" width="8.60" height="2.05" fill="#a8a8a8" filter="url(#fz)"/>
<rect x="102.90" y="677.40" width="7.10" height="0.55" fill="none" stroke="#1a1a1a" stroke-width="1.5"/>
<line x1="117.95" y1="673.58" x2="117.95" y2="674.44" stroke="#161616" stroke-width="1.5" stroke-linecap="butt"/>
<line x1="112.85" y1="673.58" x2="123.05" y2="673.58" stroke="#161616" stroke-width="1.8" stroke-linecap="butt"/>
<rect x="113.65" y="674.44" width="8.60" height="4.26" fill="#474747" filter="url(#fc)"/>
<rect x="114.40" y="675.19" width="7.10" height="2.76" fill="none" stroke="#1a1a1a" stroke-width="1.5"/>
<line x1="129.35" y1="651.41" x2="129.35" y2="660.96" stroke="#161616" stroke-width="1.5" stroke-linecap="butt"/>
<line x1="124.25" y1="651.41" x2="134.45" y2="651.41" stroke="#161616" stroke-width="1.8" stroke-linecap="butt"/>
<rect x="125.05" y="660.96" width="8.60" height="17.74" fill="#dcdcdc" filter="url(#fi)"/>
<rect x="125.80" y="661.71" width="7.10" height="16.24" fill="none" stroke="#1a1a1a" stroke-width="1.5"/>
<line x1="145.40" y1="674.61" x2="145.40" y2="675.63" stroke="#161616" stroke-width="1.5" stroke-linecap="butt"/>
<line x1="140.30" y1="674.61" x2="150.50" y2="674.61" stroke="#161616" stroke-width="1.8" stroke-linecap="butt"/>
<rect x="141.10" y="675.63" width="8.60" height="3.07" fill="#141414"/>
<rect x="141.85" y="676.38" width="7.10" height="1.57" fill="none" stroke="#1a1a1a" stroke-width="1.5"/>
<line x1="157.30" y1="646.64" x2="157.30" y2="658.23" stroke="#161616" stroke-width="1.5" stroke-linecap="butt"/>
<line x1="152.20" y1="646.64" x2="162.40" y2="646.64" stroke="#161616" stroke-width="1.8" stroke-linecap="butt"/>
<rect x="153.00" y="658.23" width="8.60" height="20.47" fill="#a8a8a8" filter="url(#fz)"/>
<rect x="153.75" y="658.98" width="7.10" height="18.97" fill="none" stroke="#1a1a1a" stroke-width="1.5"/>
<line x1="168.80" y1="636.23" x2="168.80" y2="656.36" stroke="#161616" stroke-width="1.5" stroke-linecap="butt"/>
<line x1="163.70" y1="636.23" x2="173.90" y2="636.23" stroke="#161616" stroke-width="1.8" stroke-linecap="butt"/>
<rect x="164.50" y="656.36" width="8.60" height="22.34" fill="#474747" filter="url(#fc)"/>
<rect x="165.25" y="657.11" width="7.10" height="20.84" fill="none" stroke="#1a1a1a" stroke-width="1.5"/>
<line x1="180.20" y1="616.96" x2="180.20" y2="629.75" stroke="#161616" stroke-width="1.5" stroke-linecap="butt"/>
<line x1="175.10" y1="616.96" x2="185.30" y2="616.96" stroke="#161616" stroke-width="1.8" stroke-linecap="butt"/>
<rect x="175.90" y="629.75" width="8.60" height="48.95" fill="#dcdcdc" filter="url(#fi)"/>
<rect x="176.65" y="630.50" width="7.10" height="47.45" fill="none" stroke="#1a1a1a" stroke-width="1.5"/>
<rect x="191.50" y="677.68" width="8.60" height="1.02" fill="#141414"/>
<rect x="192.25" y="678.43" width="7.10" height="0.30" fill="none" stroke="#1a1a1a" stroke-width="1.5"/>
<line x1="207.70" y1="623.27" x2="207.70" y2="632.48" stroke="#161616" stroke-width="1.5" stroke-linecap="butt"/>
<line x1="202.60" y1="623.27" x2="212.80" y2="623.27" stroke="#161616" stroke-width="1.8" stroke-linecap="butt"/>
<rect x="203.40" y="632.48" width="8.60" height="46.22" fill="#a8a8a8" filter="url(#fz)"/>
<rect x="204.15" y="633.23" width="7.10" height="44.72" fill="none" stroke="#1a1a1a" stroke-width="1.5"/>
<line x1="219.20" y1="617.64" x2="219.20" y2="637.77" stroke="#161616" stroke-width="1.5" stroke-linecap="butt"/>
<line x1="214.10" y1="617.64" x2="224.30" y2="617.64" stroke="#161616" stroke-width="1.8" stroke-linecap="butt"/>
<rect x="214.90" y="637.77" width="8.60" height="40.93" fill="#474747" filter="url(#fc)"/>
<rect x="215.65" y="638.52" width="7.10" height="39.43" fill="none" stroke="#1a1a1a" stroke-width="1.5"/>
<line x1="230.60" y1="623.27" x2="230.60" y2="636.23" stroke="#161616" stroke-width="1.5" stroke-linecap="butt"/>
<line x1="225.50" y1="623.27" x2="235.70" y2="623.27" stroke="#161616" stroke-width="1.8" stroke-linecap="butt"/>
<rect x="226.30" y="636.23" width="8.60" height="42.47" fill="#dcdcdc" filter="url(#fi)"/>
<rect x="227.05" y="636.98" width="7.10" height="40.97" fill="none" stroke="#1a1a1a" stroke-width="1.5"/>
<line x1="246.00" y1="671.88" x2="246.00" y2="673.92" stroke="#161616" stroke-width="1.5" stroke-linecap="butt"/>
<line x1="240.90" y1="671.88" x2="251.10" y2="671.88" stroke="#161616" stroke-width="1.8" stroke-linecap="butt"/>
<rect x="241.70" y="673.92" width="8.60" height="4.78" fill="#141414"/>
<rect x="242.45" y="674.67" width="7.10" height="3.28" fill="none" stroke="#1a1a1a" stroke-width="1.5"/>
<line x1="257.90" y1="616.45" x2="257.90" y2="629.41" stroke="#161616" stroke-width="1.5" stroke-linecap="butt"/>
<line x1="252.80" y1="616.45" x2="263.00" y2="616.45" stroke="#161616" stroke-width="1.8" stroke-linecap="butt"/>
<rect x="253.60" y="629.41" width="8.60" height="49.29" fill="#a8a8a8" filter="url(#fz)"/>
<rect x="254.35" y="630.16" width="7.10" height="47.79" fill="none" stroke="#1a1a1a" stroke-width="1.5"/>
<line x1="269.40" y1="585.24" x2="269.40" y2="619.35" stroke="#161616" stroke-width="1.5" stroke-linecap="butt"/>
<line x1="264.30" y1="585.24" x2="274.50" y2="585.24" stroke="#161616" stroke-width="1.8" stroke-linecap="butt"/>
<rect x="265.10" y="619.35" width="8.60" height="59.35" fill="#474747" filter="url(#fc)"/>
<rect x="265.85" y="620.10" width="7.10" height="57.85" fill="none" stroke="#1a1a1a" stroke-width="1.5"/>
<line x1="280.80" y1="566.64" x2="280.80" y2="604.85" stroke="#161616" stroke-width="1.5" stroke-linecap="butt"/>
<line x1="275.70" y1="566.64" x2="285.90" y2="566.64" stroke="#161616" stroke-width="1.8" stroke-linecap="butt"/>
<rect x="276.50" y="604.85" width="8.60" height="73.85" fill="#dcdcdc" filter="url(#fi)"/>
<rect x="277.25" y="605.60" width="7.10" height="72.35" fill="none" stroke="#1a1a1a" stroke-width="1.5"/>
<line x1="296.50" y1="670.17" x2="296.50" y2="673.24" stroke="#161616" stroke-width="1.5" stroke-linecap="butt"/>
<line x1="291.40" y1="670.17" x2="301.60" y2="670.17" stroke="#161616" stroke-width="1.8" stroke-linecap="butt"/>
<rect x="292.20" y="673.24" width="8.60" height="5.46" fill="#141414"/>
<rect x="292.95" y="673.99" width="7.10" height="3.96" fill="none" stroke="#1a1a1a" stroke-width="1.5"/>
<line x1="308.40" y1="575.00" x2="308.40" y2="601.44" stroke="#161616" stroke-width="1.5" stroke-linecap="butt"/>
<line x1="303.30" y1="575.00" x2="313.50" y2="575.00" stroke="#161616" stroke-width="1.8" stroke-linecap="butt"/>
<rect x="304.10" y="601.44" width="8.60" height="77.26" fill="#a8a8a8" filter="url(#fz)"/>
<rect x="304.85" y="602.19" width="7.10" height="75.76" fill="none" stroke="#1a1a1a" stroke-width="1.5"/>
<line x1="319.90" y1="563.06" x2="319.90" y2="585.24" stroke="#161616" stroke-width="1.5" stroke-linecap="butt"/>
<line x1="314.80" y1="563.06" x2="325.00" y2="563.06" stroke="#161616" stroke-width="1.8" stroke-linecap="butt"/>
<rect x="315.60" y="585.24" width="8.60" height="93.46" fill="#474747" filter="url(#fc)"/>
<rect x="316.35" y="585.99" width="7.10" height="91.96" fill="none" stroke="#1a1a1a" stroke-width="1.5"/>
<line x1="331.30" y1="519.23" x2="331.30" y2="576.88" stroke="#161616" stroke-width="1.5" stroke-linecap="butt"/>
<line x1="326.20" y1="519.23" x2="336.40" y2="519.23" stroke="#161616" stroke-width="1.8" stroke-linecap="butt"/>
<rect x="327.00" y="576.88" width="8.60" height="101.82" fill="#dcdcdc" filter="url(#fi)"/>
<rect x="327.75" y="577.63" width="7.10" height="100.32" fill="none" stroke="#1a1a1a" stroke-width="1.5"/>
<line x1="346.70" y1="670.17" x2="346.70" y2="672.73" stroke="#161616" stroke-width="1.5" stroke-linecap="butt"/>
<line x1="341.60" y1="670.17" x2="351.80" y2="670.17" stroke="#161616" stroke-width="1.8" stroke-linecap="butt"/>
<rect x="342.40" y="672.73" width="8.60" height="5.97" fill="#141414"/>
<rect x="343.15" y="673.48" width="7.10" height="4.47" fill="none" stroke="#1a1a1a" stroke-width="1.5"/>
<line x1="358.60" y1="529.81" x2="358.60" y2="583.70" stroke="#161616" stroke-width="1.5" stroke-linecap="butt"/>
<line x1="353.50" y1="529.81" x2="363.70" y2="529.81" stroke="#161616" stroke-width="1.8" stroke-linecap="butt"/>
<rect x="354.30" y="583.70" width="8.60" height="95.00" fill="#a8a8a8" filter="url(#fz)"/>
<rect x="355.05" y="584.45" width="7.10" height="93.50" fill="none" stroke="#1a1a1a" stroke-width="1.5"/>
<line x1="370.10" y1="541.23" x2="370.10" y2="567.50" stroke="#161616" stroke-width="1.5" stroke-linecap="butt"/>
<line x1="365.00" y1="541.23" x2="375.20" y2="541.23" stroke="#161616" stroke-width="1.8" stroke-linecap="butt"/>
<rect x="365.80" y="567.50" width="8.60" height="111.20" fill="#474747" filter="url(#fc)"/>
<rect x="366.55" y="568.25" width="7.10" height="109.70" fill="none" stroke="#1a1a1a" stroke-width="1.5"/>
<line x1="381.50" y1="515.31" x2="381.50" y2="562.21" stroke="#161616" stroke-width="1.5" stroke-linecap="butt"/>
<line x1="376.40" y1="515.31" x2="386.60" y2="515.31" stroke="#161616" stroke-width="1.8" stroke-linecap="butt"/>
<rect x="377.20" y="562.21" width="8.60" height="116.49" fill="#dcdcdc" filter="url(#fi)"/>
<rect x="377.95" y="562.96" width="7.10" height="114.99" fill="none" stroke="#1a1a1a" stroke-width="1.5"/>
<line x1="397.10" y1="674.44" x2="397.10" y2="676.14" stroke="#161616" stroke-width="1.5" stroke-linecap="butt"/>
<line x1="392.00" y1="674.44" x2="402.20" y2="674.44" stroke="#161616" stroke-width="1.8" stroke-linecap="butt"/>
<rect x="392.80" y="676.14" width="8.60" height="2.56" fill="#141414"/>
<rect x="393.55" y="676.89" width="7.10" height="1.06" fill="none" stroke="#1a1a1a" stroke-width="1.5"/>
<line x1="409.00" y1="488.36" x2="409.00" y2="566.30" stroke="#161616" stroke-width="1.5" stroke-linecap="butt"/>
<line x1="403.90" y1="488.36" x2="414.10" y2="488.36" stroke="#161616" stroke-width="1.8" stroke-linecap="butt"/>
<rect x="404.70" y="566.30" width="8.60" height="112.40" fill="#a8a8a8" filter="url(#fz)"/>
<rect x="405.45" y="567.05" width="7.10" height="110.90" fill="none" stroke="#1a1a1a" stroke-width="1.5"/>
<rect x="416.20" y="540.55" width="8.60" height="138.15" fill="#474747" filter="url(#fc)"/>
<rect x="416.95" y="541.30" width="7.10" height="136.65" fill="none" stroke="#1a1a1a" stroke-width="1.5"/>
<line x1="431.90" y1="498.25" x2="431.90" y2="522.81" stroke="#161616" stroke-width="1.5" stroke-linecap="butt"/>
<line x1="426.80" y1="498.25" x2="437.00" y2="498.25" stroke="#161616" stroke-width="1.8" stroke-linecap="butt"/>
<rect x="427.60" y="522.81" width="8.60" height="155.89" fill="#dcdcdc" filter="url(#fi)"/>
<rect x="428.35" y="523.56" width="7.10" height="154.39" fill="none" stroke="#1a1a1a" stroke-width="1.5"/>
<line x1="459.70" y1="414.51" x2="459.70" y2="468.92" stroke="#161616" stroke-width="1.5" stroke-linecap="butt"/>
<line x1="454.60" y1="414.51" x2="464.80" y2="414.51" stroke="#161616" stroke-width="1.8" stroke-linecap="butt"/>
<rect x="455.40" y="468.92" width="8.60" height="209.78" fill="#a8a8a8" filter="url(#fz)"/>
<rect x="456.15" y="469.67" width="7.10" height="208.28" fill="none" stroke="#1a1a1a" stroke-width="1.5"/>
<line x1="471.20" y1="477.27" x2="471.20" y2="516.16" stroke="#161616" stroke-width="1.5" stroke-linecap="butt"/>
<line x1="466.10" y1="477.27" x2="476.30" y2="477.27" stroke="#161616" stroke-width="1.8" stroke-linecap="butt"/>
<rect x="466.90" y="516.16" width="8.60" height="162.54" fill="#474747" filter="url(#fc)"/>
<rect x="467.65" y="516.91" width="7.10" height="161.04" fill="none" stroke="#1a1a1a" stroke-width="1.5"/>
<line x1="482.60" y1="437.19" x2="482.60" y2="471.48" stroke="#161616" stroke-width="1.5" stroke-linecap="butt"/>
<line x1="477.50" y1="437.19" x2="487.70" y2="437.19" stroke="#161616" stroke-width="1.8" stroke-linecap="butt"/>
<rect x="478.30" y="471.48" width="8.60" height="207.23" fill="#dcdcdc" filter="url(#fi)"/>
<rect x="479.05" y="472.23" width="7.10" height="205.73" fill="none" stroke="#1a1a1a" stroke-width="1.5"/>
<line x1="62.00" y1="371.20" x2="62.00" y2="679.50" stroke="#111" stroke-width="1.6" stroke-linecap="butt"/>
<line x1="61.20" y1="678.70" x2="515.90" y2="678.70" stroke="#111" stroke-width="1.6" stroke-linecap="butt"/>
<line x1="62.00" y1="371.70" x2="516.10" y2="371.70" stroke="#1c1c1c" stroke-width="1.4" stroke-linecap="butt"/>
<line x1="515.40" y1="371.70" x2="515.40" y2="678.70" stroke="#1c1c1c" stroke-width="1.6" stroke-linecap="butt"/>
<line x1="56.80" y1="678.70" x2="62.00" y2="678.70" stroke="#111" stroke-width="1.4" stroke-linecap="butt"/>
<text x="49.10" y="683.40" font-family='"Liberation Sans", sans-serif' font-size="10.8" font-weight="bold" text-anchor="end" textLength="5.75" lengthAdjust="spacingAndGlyphs" fill="#111" >0</text>
<line x1="56.80" y1="644.59" x2="62.00" y2="644.59" stroke="#111" stroke-width="1.4" stroke-linecap="butt"/>
<text x="49.10" y="649.29" font-family='"Liberation Sans", sans-serif' font-size="10.8" font-weight="bold" text-anchor="end" textLength="17.25" lengthAdjust="spacingAndGlyphs" fill="#111" >200</text>
<line x1="56.80" y1="610.48" x2="62.00" y2="610.48" stroke="#111" stroke-width="1.4" stroke-linecap="butt"/>
<text x="49.10" y="615.18" font-family='"Liberation Sans", sans-serif' font-size="10.8" font-weight="bold" text-anchor="end" textLength="17.25" lengthAdjust="spacingAndGlyphs" fill="#111" >400</text>
<line x1="56.80" y1="576.37" x2="62.00" y2="576.37" stroke="#111" stroke-width="1.4" stroke-linecap="butt"/>
<text x="49.10" y="581.07" font-family='"Liberation Sans", sans-serif' font-size="10.8" font-weight="bold" text-anchor="end" textLength="17.25" lengthAdjust="spacingAndGlyphs" fill="#111" >600</text>
<line x1="56.80" y1="542.26" x2="62.00" y2="542.26" stroke="#111" stroke-width="1.4" stroke-linecap="butt"/>
<text x="49.10" y="546.96" font-family='"Liberation Sans", sans-serif' font-size="10.8" font-weight="bold" text-anchor="end" textLength="17.25" lengthAdjust="spacingAndGlyphs" fill="#111" >800</text>
<line x1="56.80" y1="508.14" x2="62.00" y2="508.14" stroke="#111" stroke-width="1.4" stroke-linecap="butt"/>
<text x="49.10" y="512.84" font-family='"Liberation Sans", sans-serif' font-size="10.8" font-weight="bold" text-anchor="end" textLength="23.00" lengthAdjust="spacingAndGlyphs" fill="#111" >1000</text>
<line x1="56.80" y1="474.03" x2="62.00" y2="474.03" stroke="#111" stroke-width="1.4" stroke-linecap="butt"/>
<text x="49.10" y="478.73" font-family='"Liberation Sans", sans-serif' font-size="10.8" font-weight="bold" text-anchor="end" textLength="23.00" lengthAdjust="spacingAndGlyphs" fill="#111" >1200</text>
<line x1="56.80" y1="439.92" x2="62.00" y2="439.92" stroke="#111" stroke-width="1.4" stroke-linecap="butt"/>
<text x="49.10" y="444.62" font-family='"Liberation Sans", sans-serif' font-size="10.8" font-weight="bold" text-anchor="end" textLength="23.00" lengthAdjust="spacingAndGlyphs" fill="#111" >1400</text>
<line x1="56.80" y1="405.81" x2="62.00" y2="405.81" stroke="#111" stroke-width="1.4" stroke-linecap="butt"/>
<text x="49.10" y="410.51" font-family='"Liberation Sans", sans-serif' font-size="10.8" font-weight="bold" text-anchor="end" textLength="23.00" lengthAdjust="spacingAndGlyphs" fill="#111" >1600</text>
<line x1="56.80" y1="371.70" x2="62.00" y2="371.70" stroke="#111" stroke-width="1.4" stroke-linecap="butt"/>
<text x="49.10" y="376.40" font-family='"Liberation Sans", sans-serif' font-size="10.8" font-weight="bold" text-anchor="end" textLength="23.00" lengthAdjust="spacingAndGlyphs" fill="#111" >1800</text>
<line x1="111.75" y1="678.70" x2="111.75" y2="683.50" stroke="#111" stroke-width="1.4" stroke-linecap="butt"/>
<text x="111.50" y="705.90" font-family='"Liberation Sans", sans-serif' font-size="14.6" font-weight="bold" text-anchor="middle" textLength="7.55" lengthAdjust="spacingAndGlyphs" fill="#111" >5</text>
<line x1="162.60" y1="678.70" x2="162.60" y2="683.50" stroke="#111" stroke-width="1.4" stroke-linecap="butt"/>
<text x="161.20" y="705.90" font-family='"Liberation Sans", sans-serif' font-size="14.6" font-weight="bold" text-anchor="middle" textLength="15.10" lengthAdjust="spacingAndGlyphs" fill="#111" >15</text>
<line x1="213.00" y1="678.70" x2="213.00" y2="683.50" stroke="#111" stroke-width="1.4" stroke-linecap="butt"/>
<text x="212.00" y="705.90" font-family='"Liberation Sans", sans-serif' font-size="14.6" font-weight="bold" text-anchor="middle" textLength="15.10" lengthAdjust="spacingAndGlyphs" fill="#111" >20</text>
<line x1="263.20" y1="678.70" x2="263.20" y2="683.50" stroke="#111" stroke-width="1.4" stroke-linecap="butt"/>
<text x="261.80" y="705.90" font-family='"Liberation Sans", sans-serif' font-size="14.6" font-weight="bold" text-anchor="middle" textLength="15.10" lengthAdjust="spacingAndGlyphs" fill="#111" >25</text>
<line x1="313.70" y1="678.70" x2="313.70" y2="683.50" stroke="#111" stroke-width="1.4" stroke-linecap="butt"/>
<text x="312.80" y="705.90" font-family='"Liberation Sans", sans-serif' font-size="14.6" font-weight="bold" text-anchor="middle" textLength="15.10" lengthAdjust="spacingAndGlyphs" fill="#111" >35</text>
<line x1="363.90" y1="678.70" x2="363.90" y2="683.50" stroke="#111" stroke-width="1.4" stroke-linecap="butt"/>
<text x="362.80" y="705.90" font-family='"Liberation Sans", sans-serif' font-size="14.6" font-weight="bold" text-anchor="middle" textLength="15.10" lengthAdjust="spacingAndGlyphs" fill="#111" >60</text>
<line x1="414.30" y1="678.70" x2="414.30" y2="683.50" stroke="#111" stroke-width="1.4" stroke-linecap="butt"/>
<text x="413.00" y="705.90" font-family='"Liberation Sans", sans-serif' font-size="14.6" font-weight="bold" text-anchor="middle" textLength="22.65" lengthAdjust="spacingAndGlyphs" fill="#111" >100</text>
<line x1="465.00" y1="678.70" x2="465.00" y2="683.50" stroke="#111" stroke-width="1.4" stroke-linecap="butt"/>
<text x="463.80" y="705.90" font-family='"Liberation Sans", sans-serif' font-size="14.6" font-weight="bold" text-anchor="middle" textLength="22.65" lengthAdjust="spacingAndGlyphs" fill="#111" >365</text>
<rect x="72.20" y="394.40" width="36.40" height="8.80" fill="#141414"/>
<rect x="72.75" y="394.95" width="35.30" height="7.70" fill="none" stroke="#1a1a1a" stroke-width="1.1"/>
<text x="116.50" y="404.30" font-family='"Liberation Sans", sans-serif' font-size="14.6" font-weight="bold" textLength="33.40" lengthAdjust="spacingAndGlyphs" fill="#111" >naive</text>
<rect x="72.20" y="414.90" width="36.40" height="8.80" fill="#a8a8a8" filter="url(#fz)"/>
<rect x="72.75" y="415.45" width="35.30" height="7.70" fill="none" stroke="#1a1a1a" stroke-width="1.1"/>
<text x="116.50" y="425.00" font-family='"Liberation Sans", sans-serif' font-size="14.6" font-weight="bold" textLength="208.30" lengthAdjust="spacingAndGlyphs" fill="#111" >vaccinated with DA1-3b/Zeo cells</text>
<rect x="72.20" y="434.50" width="36.40" height="8.80" fill="#474747" filter="url(#fc)"/>
<rect x="72.75" y="435.05" width="35.30" height="7.70" fill="none" stroke="#1a1a1a" stroke-width="1.1"/>
<text x="116.50" y="444.30" font-family='"Liberation Sans", sans-serif' font-size="14.6" font-weight="bold" textLength="228.20" lengthAdjust="spacingAndGlyphs" fill="#111" >vaccinated with DA1-3b/CD154 cells</text>
<rect x="72.20" y="454.70" width="36.40" height="8.80" fill="#dcdcdc" filter="url(#fi)"/>
<rect x="72.75" y="455.25" width="35.30" height="7.70" fill="none" stroke="#1a1a1a" stroke-width="1.1"/>
<text x="116.50" y="464.20" font-family='"Liberation Sans", sans-serif' font-size="14.6" font-weight="bold" textLength="212.20" lengthAdjust="spacingAndGlyphs" fill="#111" >vaccinated with DA1-3b/IL12 cells</text>
<text x="16.10" y="651.80" font-family='"Liberation Serif", serif' font-size="18.8" font-weight="bold" textLength="248.00" lengthAdjust="spacingAndGlyphs" transform="rotate(-90 16.10 651.80)" fill="#000" stroke="#000" stroke-width="0.3">B7.1 mRNA/18S normalized</text>
<text x="193.20" y="729.10" font-family='"Liberation Serif", serif' font-size="18.4" font-weight="bold" textLength="166.60" lengthAdjust="spacingAndGlyphs" fill="#000" stroke="#000" stroke-width="0.3">Days after injection</text>
<text x="0.30" y="360.10" font-family='"Liberation Sans", sans-serif' font-size="25.2" font-weight="bold" fill="#000" >B</text>
<line x1="96.25" y1="1087.11" x2="96.25" y2="1088.94" stroke="#161616" stroke-width="1.35" stroke-linecap="butt"/>
<line x1="91.15" y1="1087.11" x2="101.35" y2="1087.11" stroke="#161616" stroke-width="1.65" stroke-linecap="butt"/>
<rect x="92.10" y="1088.94" width="8.30" height="8.16" fill="#141414"/>
<rect x="92.85" y="1089.69" width="6.80" height="6.66" fill="none" stroke="#1a1a1a" stroke-width="1.5"/>
<line x1="107.75" y1="1087.11" x2="107.75" y2="1088.94" stroke="#161616" stroke-width="1.35" stroke-linecap="butt"/>
<line x1="102.65" y1="1087.11" x2="112.85" y2="1087.11" stroke="#161616" stroke-width="1.65" stroke-linecap="butt"/>
<rect x="103.60" y="1088.94" width="8.30" height="8.16" fill="#a8a8a8" filter="url(#fz)"/>
<rect x="104.35" y="1089.69" width="6.80" height="6.66" fill="none" stroke="#1a1a1a" stroke-width="1.5"/>
<rect x="114.50" y="1092.00" width="8.30" height="5.10" fill="#474747" filter="url(#fc)"/>
<rect x="115.25" y="1092.75" width="6.80" height="3.60" fill="none" stroke="#1a1a1a" stroke-width="1.5"/>
<line x1="129.45" y1="1089.96" x2="129.45" y2="1092.00" stroke="#161616" stroke-width="1.35" stroke-linecap="butt"/>
<line x1="124.35" y1="1089.96" x2="134.55" y2="1089.96" stroke="#161616" stroke-width="1.65" stroke-linecap="butt"/>
<rect x="125.30" y="1092.00" width="8.30" height="5.10" fill="#dcdcdc" filter="url(#fi)"/>
<rect x="126.05" y="1092.75" width="6.80" height="3.60" fill="none" stroke="#1a1a1a" stroke-width="1.5"/>
<line x1="146.75" y1="1085.07" x2="146.75" y2="1091.39" stroke="#161616" stroke-width="1.35" stroke-linecap="butt"/>
<line x1="141.65" y1="1085.07" x2="151.85" y2="1085.07" stroke="#161616" stroke-width="1.65" stroke-linecap="butt"/>
<rect x="142.60" y="1091.39" width="8.30" height="5.71" fill="#141414"/>
<rect x="143.35" y="1092.14" width="6.80" height="4.21" fill="none" stroke="#1a1a1a" stroke-width="1.5"/>
<line x1="158.25" y1="1048.05" x2="158.25" y2="1062.13" stroke="#161616" stroke-width="1.35" stroke-linecap="butt"/>
<line x1="153.15" y1="1048.05" x2="163.35" y2="1048.05" stroke="#161616" stroke-width="1.65" stroke-linecap="butt"/>
<rect x="154.10" y="1062.13" width="8.30" height="34.97" fill="#a8a8a8" filter="url(#fz)"/>
<rect x="154.85" y="1062.88" width="6.80" height="33.47" fill="none" stroke="#1a1a1a" stroke-width="1.5"/>
<line x1="169.15" y1="1054.27" x2="169.15" y2="1055.80" stroke="#161616" stroke-width="1.35" stroke-linecap="butt"/>
<line x1="164.05" y1="1054.27" x2="174.25" y2="1054.27" stroke="#161616" stroke-width="1.65" stroke-linecap="butt"/>
<rect x="165.00" y="1055.80" width="8.30" height="41.30" fill="#474747" filter="url(#fc)"/>
<rect x="165.75" y="1056.55" width="6.80" height="39.80" fill="none" stroke="#1a1a1a" stroke-width="1.5"/>
<line x1="179.95" y1="1070.08" x2="179.95" y2="1080.79" stroke="#161616" stroke-width="1.35" stroke-linecap="butt"/>
<line x1="174.85" y1="1070.08" x2="185.05" y2="1070.08" stroke="#161616" stroke-width="1.65" stroke-linecap="butt"/>
<rect x="175.80" y="1080.79" width="8.30" height="16.31" fill="#dcdcdc" filter="url(#fi)"/>
<rect x="176.55" y="1081.54" width="6.80" height="14.81" fill="none" stroke="#1a1a1a" stroke-width="1.5"/>
<line x1="197.05" y1="1090.57" x2="197.05" y2="1092.61" stroke="#161616" stroke-width="1.35" stroke-linecap="butt"/>
<line x1="191.95" y1="1090.57" x2="202.15" y2="1090.57" stroke="#161616" stroke-width="1.65" stroke-linecap="butt"/>
<rect x="192.90" y="1092.61" width="8.30" height="4.49" fill="#141414"/>
<rect x="193.65" y="1093.36" width="6.80" height="2.99" fill="none" stroke="#1a1a1a" stroke-width="1.5"/>
<line x1="208.55" y1="1022.46" x2="208.55" y2="1054.27" stroke="#161616" stroke-width="1.35" stroke-linecap="butt"/>
<line x1="203.45" y1="1022.46" x2="213.65" y2="1022.46" stroke="#161616" stroke-width="1.65" stroke-linecap="butt"/>
<rect x="204.40" y="1054.27" width="8.30" height="42.83" fill="#a8a8a8" filter="url(#fz)"/>
<rect x="205.15" y="1055.02" width="6.80" height="41.33" fill="none" stroke="#1a1a1a" stroke-width="1.5"/>
<line x1="219.45" y1="994.42" x2="219.45" y2="1025.52" stroke="#161616" stroke-width="1.35" stroke-linecap="butt"/>
<line x1="214.35" y1="994.42" x2="224.55" y2="994.42" stroke="#161616" stroke-width="1.65" stroke-linecap="butt"/>
<rect x="215.30" y="1025.52" width="8.30" height="71.58" fill="#474747" filter="url(#fc)"/>
<rect x="216.05" y="1026.27" width="6.80" height="70.08" fill="none" stroke="#1a1a1a" stroke-width="1.5"/>
<line x1="230.25" y1="974.94" x2="230.25" y2="1031.74" stroke="#161616" stroke-width="1.35" stroke-linecap="butt"/>
<line x1="225.15" y1="974.94" x2="235.35" y2="974.94" stroke="#161616" stroke-width="1.65" stroke-linecap="butt"/>
<rect x="226.10" y="1031.74" width="8.30" height="65.36" fill="#dcdcdc" filter="url(#fi)"/>
<rect x="226.85" y="1032.49" width="6.80" height="63.86" fill="none" stroke="#1a1a1a" stroke-width="1.5"/>
<line x1="247.45" y1="1090.06" x2="247.45" y2="1092.61" stroke="#161616" stroke-width="1.35" stroke-linecap="butt"/>
<line x1="242.35" y1="1090.06" x2="252.55" y2="1090.06" stroke="#161616" stroke-width="1.65" stroke-linecap="butt"/>
<rect x="243.30" y="1092.61" width="8.30" height="4.49" fill="#141414"/>
<rect x="244.05" y="1093.36" width="6.80" height="2.99" fill="none" stroke="#1a1a1a" stroke-width="1.5"/>
<line x1="258.95" y1="967.91" x2="258.95" y2="992.48" stroke="#161616" stroke-width="1.35" stroke-linecap="butt"/>
<line x1="253.85" y1="967.91" x2="264.05" y2="967.91" stroke="#161616" stroke-width="1.65" stroke-linecap="butt"/>
<rect x="254.80" y="992.48" width="8.30" height="104.62" fill="#a8a8a8" filter="url(#fz)"/>
<rect x="255.55" y="993.23" width="6.80" height="103.12" fill="none" stroke="#1a1a1a" stroke-width="1.5"/>
<line x1="269.85" y1="964.14" x2="269.85" y2="994.22" stroke="#161616" stroke-width="1.35" stroke-linecap="butt"/>
<line x1="264.75" y1="964.14" x2="274.95" y2="964.14" stroke="#161616" stroke-width="1.65" stroke-linecap="butt"/>
<rect x="265.70" y="994.22" width="8.30" height="102.88" fill="#474747" filter="url(#fc)"/>
<rect x="266.45" y="994.97" width="6.80" height="101.38" fill="none" stroke="#1a1a1a" stroke-width="1.5"/>
<line x1="280.65" y1="965.66" x2="280.65" y2="1005.43" stroke="#161616" stroke-width="1.35" stroke-linecap="butt"/>
<line x1="275.55" y1="965.66" x2="285.75" y2="965.66" stroke="#161616" stroke-width="1.65" stroke-linecap="butt"/>
<rect x="276.50" y="1005.43" width="8.30" height="91.67" fill="#dcdcdc" filter="url(#fi)"/>
<rect x="277.25" y="1006.18" width="6.80" height="90.17" fill="none" stroke="#1a1a1a" stroke-width="1.5"/>
<line x1="297.45" y1="1090.17" x2="297.45" y2="1093.02" stroke="#161616" stroke-width="1.35" stroke-linecap="butt"/>
<line x1="292.35" y1="1090.17" x2="302.55" y2="1090.17" stroke="#161616" stroke-width="1.65" stroke-linecap="butt"/>
<rect x="293.30" y="1093.02" width="8.30" height="4.08" fill="#141414"/>
<rect x="294.05" y="1093.77" width="6.80" height="2.58" fill="none" stroke="#1a1a1a" stroke-width="1.5"/>
<line x1="308.95" y1="934.26" x2="308.95" y2="963.12" stroke="#161616" stroke-width="1.35" stroke-linecap="butt"/>
<line x1="303.85" y1="934.26" x2="314.05" y2="934.26" stroke="#161616" stroke-width="1.65" stroke-linecap="butt"/>
<rect x="304.80" y="963.12" width="8.30" height="133.98" fill="#a8a8a8" filter="url(#fz)"/>
<rect x="305.55" y="963.87" width="6.80" height="132.48" fill="none" stroke="#1a1a1a" stroke-width="1.5"/>
<line x1="319.85" y1="944.86" x2="319.85" y2="966.17" stroke="#161616" stroke-width="1.35" stroke-linecap="butt"/>
<line x1="314.75" y1="944.86" x2="324.95" y2="944.86" stroke="#161616" stroke-width="1.65" stroke-linecap="butt"/>
<rect x="315.70" y="966.17" width="8.30" height="130.93" fill="#474747" filter="url(#fc)"/>
<rect x="316.45" y="966.92" width="6.80" height="129.43" fill="none" stroke="#1a1a1a" stroke-width="1.5"/>
<line x1="330.65" y1="904.79" x2="330.65" y2="931.30" stroke="#161616" stroke-width="1.35" stroke-linecap="butt"/>
<line x1="325.55" y1="904.79" x2="335.75" y2="904.79" stroke="#161616" stroke-width="1.65" stroke-linecap="butt"/>
<rect x="326.50" y="931.30" width="8.30" height="165.80" fill="#dcdcdc" filter="url(#fi)"/>
<rect x="327.25" y="932.05" width="6.80" height="164.30" fill="none" stroke="#1a1a1a" stroke-width="1.5"/>
<line x1="347.75" y1="1086.39" x2="347.75" y2="1087.92" stroke="#161616" stroke-width="1.35" stroke-linecap="butt"/>
<line x1="342.65" y1="1086.39" x2="352.85" y2="1086.39" stroke="#161616" stroke-width="1.65" stroke-linecap="butt"/>
<rect x="343.60" y="1087.92" width="8.30" height="9.18" fill="#141414"/>
<rect x="344.35" y="1088.67" width="6.80" height="7.68" fill="none" stroke="#1a1a1a" stroke-width="1.5"/>
<line x1="359.25" y1="918.86" x2="359.25" y2="947.62" stroke="#161616" stroke-width="1.35" stroke-linecap="butt"/>
<line x1="354.15" y1="918.86" x2="364.35" y2="918.86" stroke="#161616" stroke-width="1.65" stroke-linecap="butt"/>
<rect x="355.10" y="947.62" width="8.30" height="149.48" fill="#a8a8a8" filter="url(#fz)"/>
<rect x="355.85" y="948.37" width="6.80" height="147.98" fill="none" stroke="#1a1a1a" stroke-width="1.5"/>
<line x1="370.15" y1="864.00" x2="370.15" y2="922.13" stroke="#161616" stroke-width="1.35" stroke-linecap="butt"/>
<line x1="365.05" y1="864.00" x2="375.25" y2="864.00" stroke="#161616" stroke-width="1.65" stroke-linecap="butt"/>
<rect x="366.00" y="922.13" width="8.30" height="174.97" fill="#474747" filter="url(#fc)"/>
<rect x="366.75" y="922.88" width="6.80" height="173.47" fill="none" stroke="#1a1a1a" stroke-width="1.5"/>
<line x1="380.95" y1="883.48" x2="380.95" y2="913.25" stroke="#161616" stroke-width="1.35" stroke-linecap="butt"/>
<line x1="375.85" y1="883.48" x2="386.05" y2="883.48" stroke="#161616" stroke-width="1.65" stroke-linecap="butt"/>
<rect x="376.80" y="913.25" width="8.30" height="183.85" fill="#dcdcdc" filter="url(#fi)"/>
<rect x="377.55" y="914.00" width="6.80" height="182.35" fill="none" stroke="#1a1a1a" stroke-width="1.5"/>
<line x1="398.05" y1="1086.50" x2="398.05" y2="1088.53" stroke="#161616" stroke-width="1.35" stroke-linecap="butt"/>
<line x1="392.95" y1="1086.50" x2="403.15" y2="1086.50" stroke="#161616" stroke-width="1.65" stroke-linecap="butt"/>
<rect x="393.90" y="1088.53" width="8.30" height="8.57" fill="#141414"/>
<rect x="394.65" y="1089.28" width="6.80" height="7.07" fill="none" stroke="#1a1a1a" stroke-width="1.5"/>
<line x1="409.55" y1="906.83" x2="409.55" y2="945.17" stroke="#161616" stroke-width="1.35" stroke-linecap="butt"/>
<line x1="404.45" y1="906.83" x2="414.65" y2="906.83" stroke="#161616" stroke-width="1.65" stroke-linecap="butt"/>
<rect x="405.40" y="945.17" width="8.30" height="151.93" fill="#a8a8a8" filter="url(#fz)"/>
<rect x="406.15" y="945.92" width="6.80" height="150.43" fill="none" stroke="#1a1a1a" stroke-width="1.5"/>
<line x1="420.45" y1="843.61" x2="420.45" y2="902.04" stroke="#161616" stroke-width="1.35" stroke-linecap="butt"/>
<line x1="415.35" y1="843.61" x2="425.55" y2="843.61" stroke="#161616" stroke-width="1.65" stroke-linecap="butt"/>
<rect x="416.30" y="902.04" width="8.30" height="195.06" fill="#474747" filter="url(#fc)"/>
<rect x="417.05" y="902.79" width="6.80" height="193.56" fill="none" stroke="#1a1a1a" stroke-width="1.5"/>
<line x1="431.25" y1="824.44" x2="431.25" y2="902.04" stroke="#161616" stroke-width="1.35" stroke-linecap="butt"/>
<line x1="426.15" y1="824.44" x2="436.35" y2="824.44" stroke="#161616" stroke-width="1.65" stroke-linecap="butt"/>
<rect x="427.10" y="902.04" width="8.30" height="195.06" fill="#dcdcdc" filter="url(#fi)"/>
<rect x="427.85" y="902.79" width="6.80" height="193.56" fill="none" stroke="#1a1a1a" stroke-width="1.5"/>
<line x1="459.95" y1="876.34" x2="459.95" y2="890.01" stroke="#161616" stroke-width="1.35" stroke-linecap="butt"/>
<line x1="454.85" y1="876.34" x2="465.05" y2="876.34" stroke="#161616" stroke-width="1.65" stroke-linecap="butt"/>
<rect x="455.80" y="890.01" width="8.30" height="207.09" fill="#a8a8a8" filter="url(#fz)"/>
<rect x="456.55" y="890.76" width="6.80" height="205.59" fill="none" stroke="#1a1a1a" stroke-width="1.5"/>
<line x1="470.85" y1="888.99" x2="470.85" y2="912.74" stroke="#161616" stroke-width="1.35" stroke-linecap="butt"/>
<line x1="465.75" y1="888.99" x2="475.95" y2="888.99" stroke="#161616" stroke-width="1.65" stroke-linecap="butt"/>
<rect x="466.70" y="912.74" width="8.30" height="184.36" fill="#474747" filter="url(#fc)"/>
<rect x="467.45" y="913.49" width="6.80" height="182.86" fill="none" stroke="#1a1a1a" stroke-width="1.5"/>
<line x1="481.65" y1="847.18" x2="481.65" y2="862.47" stroke="#161616" stroke-width="1.35" stroke-linecap="butt"/>
<line x1="476.55" y1="847.18" x2="486.75" y2="847.18" stroke="#161616" stroke-width="1.65" stroke-linecap="butt"/>
<rect x="477.50" y="862.47" width="8.30" height="234.63" fill="#dcdcdc" filter="url(#fi)"/>
<rect x="478.25" y="863.22" width="6.80" height="233.13" fill="none" stroke="#1a1a1a" stroke-width="1.5"/>
<line x1="62.90" y1="790.70" x2="62.90" y2="1097.90" stroke="#111" stroke-width="1.6" stroke-linecap="butt"/>
<line x1="62.10" y1="1097.10" x2="515.90" y2="1097.10" stroke="#111" stroke-width="1.4" stroke-linecap="butt"/>
<line x1="62.90" y1="791.20" x2="516.10" y2="791.20" stroke="#1c1c1c" stroke-width="1.4" stroke-linecap="butt"/>
<line x1="515.40" y1="791.20" x2="515.40" y2="1097.10" stroke="#1c1c1c" stroke-width="1.25" stroke-linecap="butt"/>
<line x1="57.70" y1="1097.10" x2="62.90" y2="1097.10" stroke="#111" stroke-width="1.4" stroke-linecap="butt"/>
<text x="51.00" y="1101.80" font-family='"Liberation Sans", sans-serif' font-size="10.8" font-weight="bold" text-anchor="end" textLength="6.02" lengthAdjust="spacingAndGlyphs" fill="#111" >0</text>
<line x1="57.70" y1="1046.12" x2="62.90" y2="1046.12" stroke="#111" stroke-width="1.4" stroke-linecap="butt"/>
<text x="51.00" y="1050.82" font-family='"Liberation Sans", sans-serif' font-size="10.8" font-weight="bold" text-anchor="end" textLength="18.06" lengthAdjust="spacingAndGlyphs" fill="#111" >500</text>
<line x1="57.70" y1="995.13" x2="62.90" y2="995.13" stroke="#111" stroke-width="1.4" stroke-linecap="butt"/>
<text x="51.00" y="999.83" font-family='"Liberation Sans", sans-serif' font-size="10.8" font-weight="bold" text-anchor="end" textLength="24.08" lengthAdjust="spacingAndGlyphs" fill="#111" >1000</text>
<line x1="57.70" y1="944.15" x2="62.90" y2="944.15" stroke="#111" stroke-width="1.4" stroke-linecap="butt"/>
<text x="51.00" y="948.85" font-family='"Liberation Sans", sans-serif' font-size="10.8" font-weight="bold" text-anchor="end" textLength="24.08" lengthAdjust="spacingAndGlyphs" fill="#111" >1500</text>
<line x1="57.70" y1="893.17" x2="62.90" y2="893.17" stroke="#111" stroke-width="1.4" stroke-linecap="butt"/>
<text x="51.00" y="897.87" font-family='"Liberation Sans", sans-serif' font-size="10.8" font-weight="bold" text-anchor="end" textLength="24.08" lengthAdjust="spacingAndGlyphs" fill="#111" >2000</text>
<line x1="57.70" y1="842.18" x2="62.90" y2="842.18" stroke="#111" stroke-width="1.4" stroke-linecap="butt"/>
<text x="51.00" y="846.88" font-family='"Liberation Sans", sans-serif' font-size="10.8" font-weight="bold" text-anchor="end" textLength="24.08" lengthAdjust="spacingAndGlyphs" fill="#111" >2500</text>
<line x1="57.70" y1="791.20" x2="62.90" y2="791.20" stroke="#111" stroke-width="1.4" stroke-linecap="butt"/>
<text x="51.00" y="795.90" font-family='"Liberation Sans", sans-serif' font-size="10.8" font-weight="bold" text-anchor="end" textLength="24.08" lengthAdjust="spacingAndGlyphs" fill="#111" >3000</text>
<line x1="112.50" y1="1097.10" x2="112.50" y2="1101.90" stroke="#111" stroke-width="1.4" stroke-linecap="butt"/>
<text x="112.00" y="1123.50" font-family='"Liberation Sans", sans-serif' font-size="14.6" font-weight="bold" text-anchor="middle" textLength="7.55" lengthAdjust="spacingAndGlyphs" fill="#111" >5</text>
<line x1="163.00" y1="1097.10" x2="163.00" y2="1101.90" stroke="#111" stroke-width="1.4" stroke-linecap="butt"/>
<text x="162.40" y="1123.50" font-family='"Liberation Sans", sans-serif' font-size="14.6" font-weight="bold" text-anchor="middle" textLength="15.10" lengthAdjust="spacingAndGlyphs" fill="#111" >15</text>
<line x1="213.30" y1="1097.10" x2="213.30" y2="1101.90" stroke="#111" stroke-width="1.4" stroke-linecap="butt"/>
<text x="212.40" y="1123.50" font-family='"Liberation Sans", sans-serif' font-size="14.6" font-weight="bold" text-anchor="middle" textLength="15.10" lengthAdjust="spacingAndGlyphs" fill="#111" >20</text>
<line x1="263.70" y1="1097.10" x2="263.70" y2="1101.90" stroke="#111" stroke-width="1.4" stroke-linecap="butt"/>
<text x="262.40" y="1123.50" font-family='"Liberation Sans", sans-serif' font-size="14.6" font-weight="bold" text-anchor="middle" textLength="15.10" lengthAdjust="spacingAndGlyphs" fill="#111" >25</text>
<line x1="313.70" y1="1097.10" x2="313.70" y2="1101.90" stroke="#111" stroke-width="1.4" stroke-linecap="butt"/>
<text x="313.40" y="1123.50" font-family='"Liberation Sans", sans-serif' font-size="14.6" font-weight="bold" text-anchor="middle" textLength="15.10" lengthAdjust="spacingAndGlyphs" fill="#111" >35</text>
<line x1="364.00" y1="1097.10" x2="364.00" y2="1101.90" stroke="#111" stroke-width="1.4" stroke-linecap="butt"/>
<text x="363.40" y="1123.50" font-family='"Liberation Sans", sans-serif' font-size="14.6" font-weight="bold" text-anchor="middle" textLength="15.10" lengthAdjust="spacingAndGlyphs" fill="#111" >60</text>
<line x1="414.30" y1="1097.10" x2="414.30" y2="1101.90" stroke="#111" stroke-width="1.4" stroke-linecap="butt"/>
<text x="413.00" y="1123.50" font-family='"Liberation Sans", sans-serif' font-size="14.6" font-weight="bold" text-anchor="middle" textLength="22.65" lengthAdjust="spacingAndGlyphs" fill="#111" >100</text>
<line x1="464.70" y1="1097.10" x2="464.70" y2="1101.90" stroke="#111" stroke-width="1.4" stroke-linecap="butt"/>
<text x="463.40" y="1123.50" font-family='"Liberation Sans", sans-serif' font-size="14.6" font-weight="bold" text-anchor="middle" textLength="22.65" lengthAdjust="spacingAndGlyphs" fill="#111" >365</text>
<rect x="72.20" y="802.50" width="36.40" height="8.80" fill="#141414"/>
<rect x="72.75" y="803.05" width="35.30" height="7.70" fill="none" stroke="#1a1a1a" stroke-width="1.1"/>
<text x="116.50" y="811.20" font-family='"Liberation Sans", sans-serif' font-size="14.6" font-weight="bold" textLength="33.40" lengthAdjust="spacingAndGlyphs" fill="#111" >naive</text>
<rect x="72.20" y="822.50" width="36.40" height="8.80" fill="#a8a8a8" filter="url(#fz)"/>
<rect x="72.75" y="823.05" width="35.30" height="7.70" fill="none" stroke="#1a1a1a" stroke-width="1.1"/>
<text x="116.50" y="831.20" font-family='"Liberation Sans", sans-serif' font-size="14.6" font-weight="bold" textLength="208.30" lengthAdjust="spacingAndGlyphs" fill="#111" >vaccinated with DA1-3b/Zeo cells</text>
<rect x="72.20" y="841.40" width="36.40" height="8.80" fill="#474747" filter="url(#fc)"/>
<rect x="72.75" y="841.95" width="35.30" height="7.70" fill="none" stroke="#1a1a1a" stroke-width="1.1"/>
<text x="116.50" y="851.00" font-family='"Liberation Sans", sans-serif' font-size="14.6" font-weight="bold" textLength="228.20" lengthAdjust="spacingAndGlyphs" fill="#111" >vaccinated with DA1-3b/CD154 cells</text>
<rect x="72.20" y="861.40" width="36.40" height="8.80" fill="#dcdcdc" filter="url(#fi)"/>
<rect x="72.75" y="861.95" width="35.30" height="7.70" fill="none" stroke="#1a1a1a" stroke-width="1.1"/>
<text x="116.50" y="871.00" font-family='"Liberation Sans", sans-serif' font-size="14.6" font-weight="bold" textLength="212.20" lengthAdjust="spacingAndGlyphs" fill="#111" >vaccinated with DA1-3b/IL12 cells</text>
<text x="16.10" y="1076.00" font-family='"Liberation Serif", serif' font-size="18.8" font-weight="bold" textLength="261.60" lengthAdjust="spacingAndGlyphs" transform="rotate(-90 16.10 1076.00)" fill="#000" stroke="#000" stroke-width="0.3">B7-H1 mRNA/18S normalized</text>
<text x="193.20" y="1148.40" font-family='"Liberation Serif", serif' font-size="18.4" font-weight="bold" textLength="173.60" lengthAdjust="spacingAndGlyphs" fill="#000" stroke="#000" stroke-width="0.3">Days after injection</text>
<text x="1.30" y="778.30" font-family='"Liberation Sans", sans-serif' font-size="26" font-weight="bold" fill="#000" >C</text>
</g>
</svg>
</body></html>
